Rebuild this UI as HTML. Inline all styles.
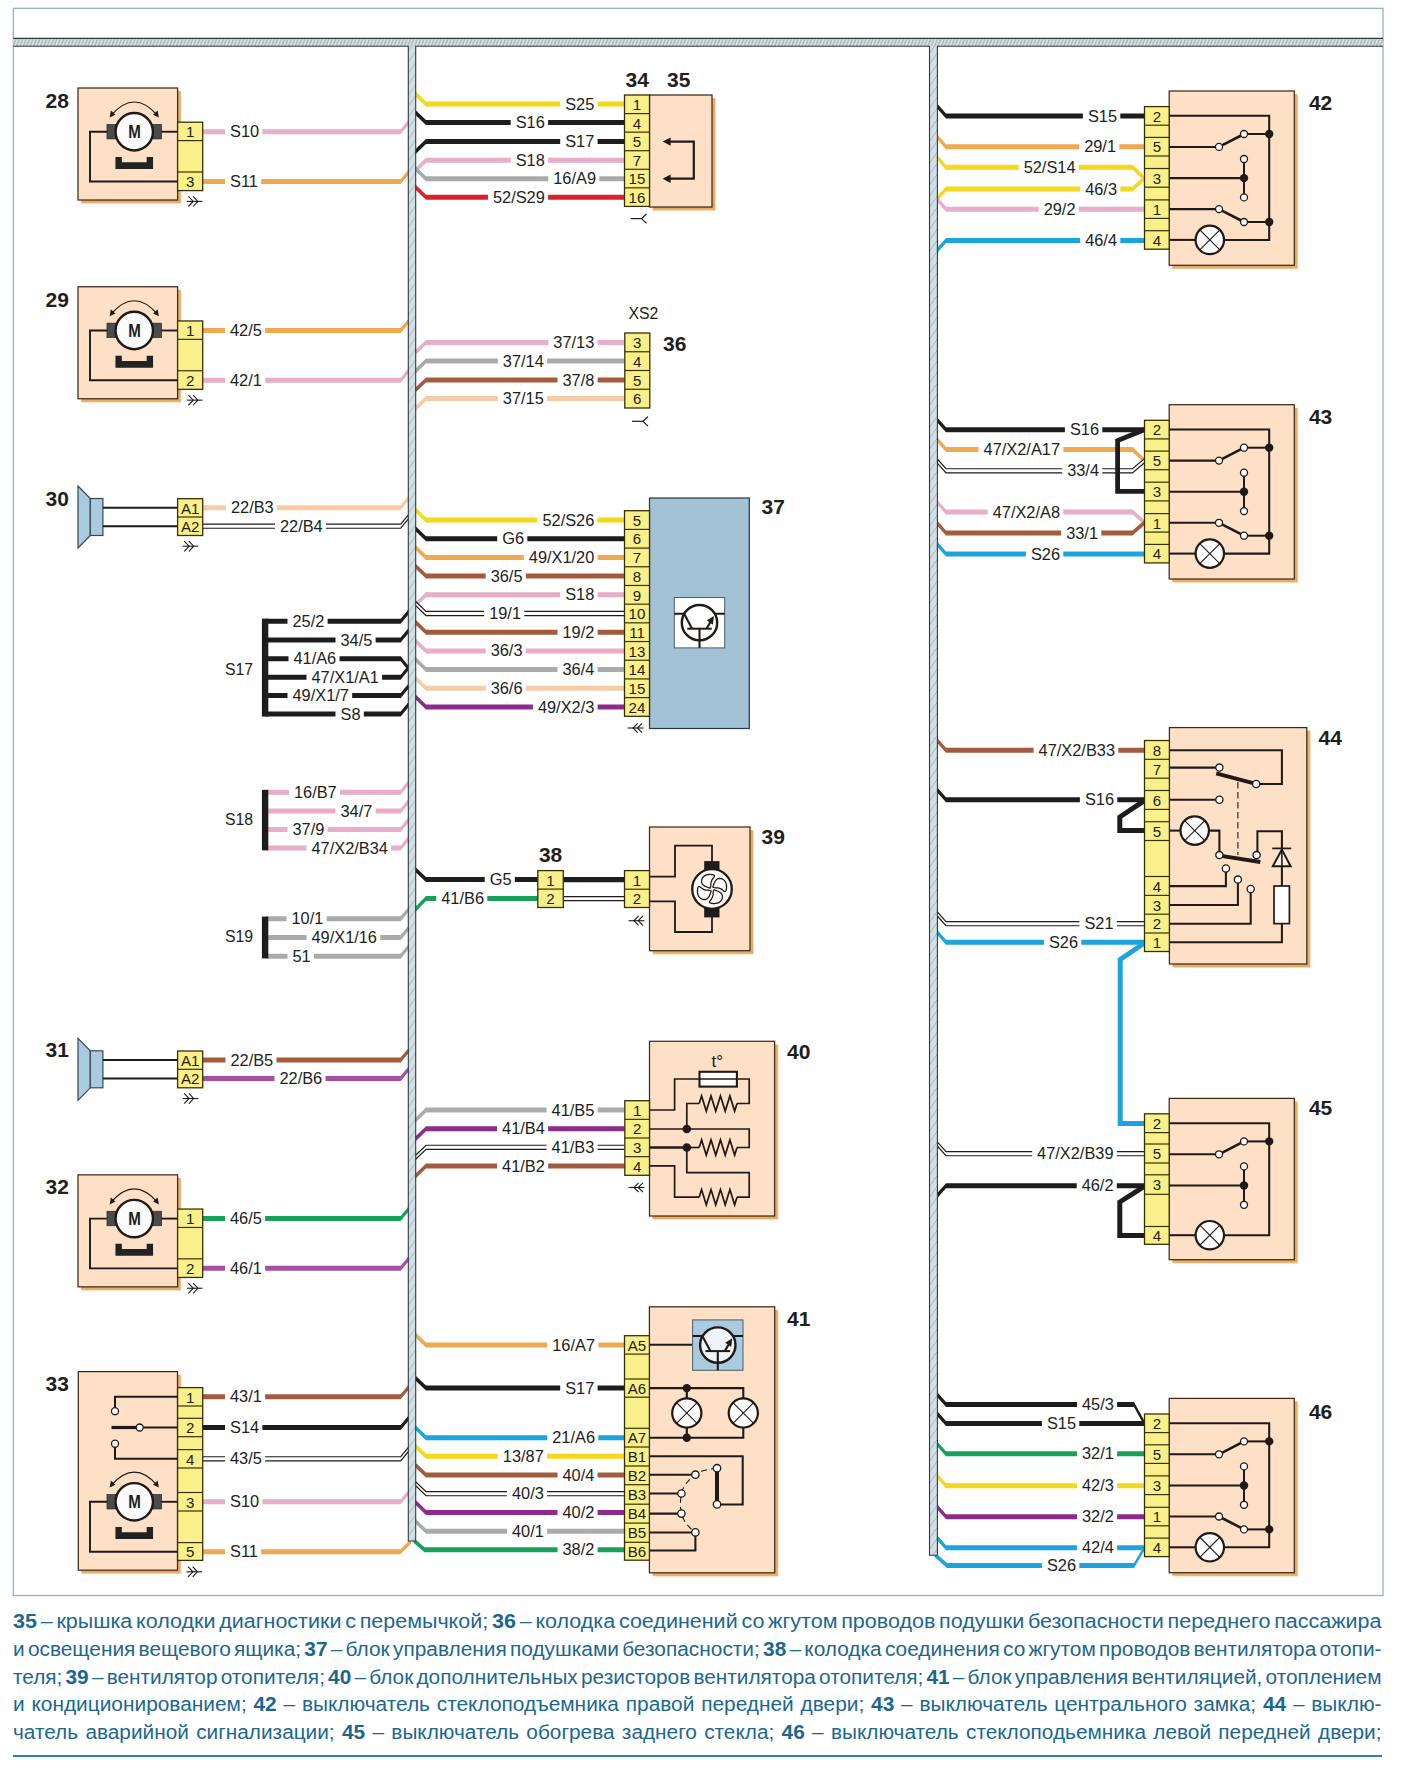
<!DOCTYPE html>
<html lang="ru"><head><meta charset="utf-8"><title>Схема</title>
<style>
html,body{margin:0;padding:0;background:#fff;}
body{width:1401px;height:1767px;position:relative;overflow:hidden;font-family:"Liberation Sans",sans-serif;}
svg{position:absolute;left:0;top:0;}
svg text{font-family:"Liberation Sans",sans-serif;fill:#221e1c;}
.wl{font-size:15.8px;}
.pn{font-size:15.1px;}
.bl{font-size:21px;font-weight:bold;}
.mm{font-size:18px;font-weight:bold;}
.cap{position:absolute;left:13px;width:1369px;height:28px;line-height:28px;font-size:20px;color:#1c678f;text-align:justify;text-align-last:justify;white-space:nowrap;word-spacing:-4px;transform-origin:0 0;}
.cap b{font-weight:bold;}
.rule{position:absolute;left:13px;top:1755px;width:1369px;height:2px;background:#2c7db6;}
</style></head><body>
<svg width="1401" height="1767" viewBox="0 0 1401 1767">
<rect x="13.3" y="8.3" width="1369.7" height="1587.2" fill="#fff" stroke="#86aec0" stroke-width="1.2"/>
<defs><pattern id="hh" width="3.4" height="7.9" patternUnits="userSpaceOnUse"><rect width="3.4" height="7.9" fill="#dfe5e8"/><path d="M-1.2 8.9 L2.6 -1 M2.2 8.9 L6 -1" stroke="#aab3b8" stroke-width="1.5"/></pattern><pattern id="hv" width="7.8" height="11" patternUnits="userSpaceOnUse"><rect width="7.8" height="11" fill="#d3dfe6"/><path d="M-1 12.4 L8.8 -1.4" stroke="#9eacb3" stroke-width="0.9"/></pattern></defs>
<path d="M202.7 129.25 L400.7 129.25 L408.6 119.65 L411.6 116 L411.6 121 L408.6 124.65 L400.7 134.25 L202.7 134.25 Z" fill="#e8adc8"/>
<rect x="225" y="127.25" width="37.4" height="9" fill="#fff"/>
<text x="230" y="137.35" class="wl" textLength="29.1" lengthAdjust="spacingAndGlyphs">S10</text>
<path d="M202.7 179 L400.7 179 L408.6 169.4 L411.6 165.75 L411.6 170.75 L408.6 174.4 L400.7 184 L202.7 184 Z" fill="#efa951"/>
<rect x="225" y="177" width="36.18" height="9" fill="#fff"/>
<text x="230" y="187.1" class="wl" textLength="27.88" lengthAdjust="spacingAndGlyphs">S11</text>
<path d="M202.7 328 L400.7 328 L408.6 318.4 L411.6 314.75 L411.6 319.75 L408.6 323.4 L400.7 333 L202.7 333 Z" fill="#efa951"/>
<rect x="225" y="326" width="40.12" height="9" fill="#fff"/>
<text x="230" y="336.1" class="wl" textLength="31.82" lengthAdjust="spacingAndGlyphs">42/5</text>
<path d="M202.7 377.75 L400.7 377.75 L408.6 368.15 L411.6 364.5 L411.6 369.5 L408.6 373.15 L400.7 382.75 L202.7 382.75 Z" fill="#e8adc8"/>
<rect x="225" y="375.75" width="40.12" height="9" fill="#fff"/>
<text x="230" y="385.85" class="wl" textLength="31.82" lengthAdjust="spacingAndGlyphs">42/1</text>
<path d="M202.7 505.2 L400.7 505.2 L408.6 495.6 L411.6 491.95 L411.6 496.95 L408.6 500.6 L400.7 510.2 L202.7 510.2 Z" fill="#f6cca6"/>
<rect x="226" y="503.2" width="51.03" height="9" fill="#fff"/>
<text x="231" y="513.3" class="wl" textLength="42.73" lengthAdjust="spacingAndGlyphs">22/B3</text>
<path d="M202.7 524.15 L400.7 524.15 L408.6 514.55 L411.6 510.9 L411.6 515 L408.6 518.65 L400.7 528.25 L202.7 528.25 Z" fill="#fff"/>
<path d="M202.7 524.15 L400.7 524.15 L408.6 514.55 L411.6 510.9" fill="none" stroke="#1f1a17" stroke-width="1.2"/>
<path d="M202.7 528.25 L400.7 528.25 L408.6 518.65 L411.6 515" fill="none" stroke="#1f1a17" stroke-width="1.2"/>
<rect x="275" y="521.7" width="51.03" height="9" fill="#fff"/>
<text x="280" y="531.8" class="wl" textLength="42.73" lengthAdjust="spacingAndGlyphs">22/B4</text>
<path d="M202.7 1057.6 L400.7 1057.6 L408.6 1048 L411.6 1044.35 L411.6 1049.35 L408.6 1053 L400.7 1062.6 L202.7 1062.6 Z" fill="#a35b3d"/>
<rect x="225.5" y="1055.6" width="51.03" height="9" fill="#fff"/>
<text x="230.5" y="1065.7" class="wl" textLength="42.73" lengthAdjust="spacingAndGlyphs">22/B5</text>
<path d="M202.7 1076 L400.7 1076 L408.6 1066.4 L411.6 1062.75 L411.6 1067.75 L408.6 1071.4 L400.7 1081 L202.7 1081 Z" fill="#a451a2"/>
<rect x="274.5" y="1074" width="51.03" height="9" fill="#fff"/>
<text x="279.5" y="1084.1" class="wl" textLength="42.73" lengthAdjust="spacingAndGlyphs">22/B6</text>
<path d="M202.7 1216.1 L400.7 1216.1 L408.6 1206.5 L411.6 1202.85 L411.6 1207.85 L408.6 1211.5 L400.7 1221.1 L202.7 1221.1 Z" fill="#18a05b"/>
<rect x="225" y="1214.1" width="40.12" height="9" fill="#fff"/>
<text x="230" y="1224.2" class="wl" textLength="31.82" lengthAdjust="spacingAndGlyphs">46/5</text>
<path d="M202.7 1265.8 L400.7 1265.8 L408.6 1256.2 L411.6 1252.55 L411.6 1257.55 L408.6 1261.2 L400.7 1270.8 L202.7 1270.8 Z" fill="#a451a2"/>
<rect x="225" y="1263.8" width="40.12" height="9" fill="#fff"/>
<text x="230" y="1273.9" class="wl" textLength="31.82" lengthAdjust="spacingAndGlyphs">46/1</text>
<path d="M202.7 1394.3 L400.7 1394.3 L408.6 1384.7 L411.6 1381.05 L411.6 1386.05 L408.6 1389.7 L400.7 1399.3 L202.7 1399.3 Z" fill="#a35b3d"/>
<rect x="225" y="1392.3" width="40.12" height="9" fill="#fff"/>
<text x="230" y="1402.4" class="wl" textLength="31.82" lengthAdjust="spacingAndGlyphs">43/1</text>
<path d="M202.7 1425 L400.7 1425 L408.6 1415.4 L411.6 1411.75 L411.6 1416.75 L408.6 1420.4 L400.7 1430 L202.7 1430 Z" fill="#1d1d1d"/>
<rect x="225" y="1423" width="37.4" height="9" fill="#fff"/>
<text x="230" y="1433.1" class="wl" textLength="29.1" lengthAdjust="spacingAndGlyphs">S14</text>
<path d="M202.7 1456.75 L400.7 1456.75 L408.6 1447.15 L411.6 1443.5 L411.6 1447.6 L408.6 1451.25 L400.7 1460.85 L202.7 1460.85 Z" fill="#fff"/>
<path d="M202.7 1456.75 L400.7 1456.75 L408.6 1447.15 L411.6 1443.5" fill="none" stroke="#1f1a17" stroke-width="1.2"/>
<path d="M202.7 1460.85 L400.7 1460.85 L408.6 1451.25 L411.6 1447.6" fill="none" stroke="#1f1a17" stroke-width="1.2"/>
<rect x="225" y="1454.3" width="40.12" height="9" fill="#fff"/>
<text x="230" y="1464.4" class="wl" textLength="31.82" lengthAdjust="spacingAndGlyphs">43/5</text>
<path d="M202.7 1499.3 L400.7 1499.3 L408.6 1489.7 L411.6 1486.05 L411.6 1491.05 L408.6 1494.7 L400.7 1504.3 L202.7 1504.3 Z" fill="#e8adc8"/>
<rect x="225" y="1497.3" width="37.4" height="9" fill="#fff"/>
<text x="230" y="1507.4" class="wl" textLength="29.1" lengthAdjust="spacingAndGlyphs">S10</text>
<path d="M202.7 1549.3 L400.5 1549.3 L411 1538.8 L411 1543.8 L400.5 1554.3 L202.7 1554.3 Z" fill="#efa951"/>
<rect x="225" y="1547.3" width="36.18" height="9" fill="#fff"/>
<text x="230" y="1557.4" class="wl" textLength="27.88" lengthAdjust="spacingAndGlyphs">S11</text>
<path d="M266 618.8 L400.7 618.8 L408.6 609.2 L411.6 605.55 L411.6 610.55 L408.6 614.2 L400.7 623.8 L266 623.8 Z" fill="#1d1d1d"/>
<rect x="287.5" y="616.8" width="40.12" height="9" fill="#fff"/>
<text x="292.5" y="626.9" class="wl" textLength="31.82" lengthAdjust="spacingAndGlyphs">25/2</text>
<path d="M266 637.5 L400.7 637.5 L408.6 627.9 L411.6 624.25 L411.6 629.25 L408.6 632.9 L400.7 642.5 L266 642.5 Z" fill="#1d1d1d"/>
<rect x="335.5" y="635.5" width="40.12" height="9" fill="#fff"/>
<text x="340.5" y="645.6" class="wl" textLength="31.82" lengthAdjust="spacingAndGlyphs">34/5</text>
<path d="M266 656.3 L400.7 656.3 L408.6 665.9 L411.6 669.55 L411.6 674.55 L408.6 670.9 L400.7 661.3 L266 661.3 Z" fill="#1d1d1d"/>
<rect x="288.5" y="654.3" width="51.03" height="9" fill="#fff"/>
<text x="293.5" y="664.4" class="wl" textLength="42.73" lengthAdjust="spacingAndGlyphs">41/A6</text>
<path d="M266 674.7 L400.7 674.7 L408.6 665.1 L411.6 661.45 L411.6 666.45 L408.6 670.1 L400.7 679.7 L266 679.7 Z" fill="#1d1d1d"/>
<rect x="306.5" y="672.7" width="75.58" height="9" fill="#fff"/>
<text x="311.5" y="682.8" class="wl" textLength="67.28" lengthAdjust="spacingAndGlyphs">47/X1/A1</text>
<path d="M266 693.1 L400.7 693.1 L408.6 683.5 L411.6 679.85 L411.6 684.85 L408.6 688.5 L400.7 698.1 L266 698.1 Z" fill="#1d1d1d"/>
<rect x="287.5" y="691.1" width="64.67" height="9" fill="#fff"/>
<text x="292.5" y="701.2" class="wl" textLength="56.37" lengthAdjust="spacingAndGlyphs">49/X1/7</text>
<path d="M266 711.5 L400.7 711.5 L408.6 701.9 L411.6 698.25 L411.6 703.25 L408.6 706.9 L400.7 716.5 L266 716.5 Z" fill="#1d1d1d"/>
<rect x="335.5" y="709.5" width="28.3" height="9" fill="#fff"/>
<text x="340.5" y="719.6" class="wl" textLength="20" lengthAdjust="spacingAndGlyphs">S8</text>
<rect x="261.9" y="618.6" width="6.4" height="98" fill="#1d1d1d"/>
<text x="225" y="675" class="wl">S17</text>
<path d="M266 789.7 L400.7 789.7 L408.6 780.1 L411.6 776.45 L411.6 781.45 L408.6 785.1 L400.7 794.7 L266 794.7 Z" fill="#e8adc8"/>
<rect x="289" y="787.7" width="51.03" height="9" fill="#fff"/>
<text x="294" y="797.8" class="wl" textLength="42.73" lengthAdjust="spacingAndGlyphs">16/B7</text>
<path d="M266 808.5 L400.7 808.5 L408.6 798.9 L411.6 795.25 L411.6 800.25 L408.6 803.9 L400.7 813.5 L266 813.5 Z" fill="#e8adc8"/>
<rect x="335.5" y="806.5" width="40.12" height="9" fill="#fff"/>
<text x="340.5" y="816.6" class="wl" textLength="31.82" lengthAdjust="spacingAndGlyphs">34/7</text>
<path d="M266 826.9 L400.7 826.9 L408.6 817.3 L411.6 813.65 L411.6 818.65 L408.6 822.3 L400.7 831.9 L266 831.9 Z" fill="#e8adc8"/>
<rect x="287.5" y="824.9" width="40.12" height="9" fill="#fff"/>
<text x="292.5" y="835" class="wl" textLength="31.82" lengthAdjust="spacingAndGlyphs">37/9</text>
<path d="M266 845.5 L400.7 845.5 L408.6 835.9 L411.6 832.25 L411.6 837.25 L408.6 840.9 L400.7 850.5 L266 850.5 Z" fill="#e8adc8"/>
<rect x="306.5" y="843.5" width="84.67" height="9" fill="#fff"/>
<text x="311.5" y="853.6" class="wl" textLength="76.37" lengthAdjust="spacingAndGlyphs">47/X2/B34</text>
<rect x="261.9" y="789.8" width="6.4" height="60.6" fill="#1d1d1d"/>
<text x="225" y="825" class="wl">S18</text>
<path d="M266 916.3 L400.7 916.3 L408.6 906.7 L411.6 903.05 L411.6 908.05 L408.6 911.7 L400.7 921.3 L266 921.3 Z" fill="#a9abab"/>
<rect x="286.5" y="914.3" width="40.12" height="9" fill="#fff"/>
<text x="291.5" y="924.4" class="wl" textLength="31.82" lengthAdjust="spacingAndGlyphs">10/1</text>
<path d="M266 935 L400.7 935 L408.6 925.4 L411.6 921.75 L411.6 926.75 L408.6 930.4 L400.7 940 L266 940 Z" fill="#a9abab"/>
<rect x="306.5" y="933" width="73.76" height="9" fill="#fff"/>
<text x="311.5" y="943.1" class="wl" textLength="65.46" lengthAdjust="spacingAndGlyphs">49/X1/16</text>
<path d="M266 953.7 L400.7 953.7 L408.6 944.1 L411.6 940.45 L411.6 945.45 L408.6 949.1 L400.7 958.7 L266 958.7 Z" fill="#a9abab"/>
<rect x="287.5" y="951.7" width="26.49" height="9" fill="#fff"/>
<text x="292.5" y="961.8" class="wl" textLength="18.19" lengthAdjust="spacingAndGlyphs">51</text>
<rect x="261.9" y="916.6" width="6.4" height="41.8" fill="#1d1d1d"/>
<text x="225" y="941.5" class="wl">S19</text>
<rect x="81.9" y="91.9" width="99.6" height="112" fill="#f6dcb9"/>
<rect x="81.1" y="91.1" width="99.6" height="112" fill="#e6ad68"/>
<rect x="78" y="88" width="99.6" height="112" fill="#fde0c6" stroke="#3f2a18" stroke-width="1.25"/>
<rect x="177.6" y="122.2" width="25.1" height="68.4" fill="#faf089" stroke="#363005" stroke-width="1.3"/>
<text x="190.15" y="137.15" class="pn" text-anchor="middle">1</text>
<path d="M177.6 140.6 H202.7" stroke="#363005" stroke-width="1.2"/>
<path d="M177.6 172 H202.7" stroke="#363005" stroke-width="1.2"/>
<text x="190.15" y="187.05" class="pn" text-anchor="middle">3</text>
<path d="M115.25 131.75 L90 131.75 L90 181.5 L177.6 181.5" fill="none" stroke="#1f1a17" stroke-width="1.9" />
<path d="M153.25 131.75 L177.6 131.75" fill="none" stroke="#1f1a17" stroke-width="1.9" />
<rect x="106.95" y="124.35" width="8.8" height="14.6" fill="#4b4b4b" stroke="#222" stroke-width="0.6"/>
<rect x="152.85" y="124.35" width="8.8" height="14.6" fill="#4b4b4b" stroke="#222" stroke-width="0.6"/>
<circle cx="134.25" cy="131.75" r="18.7" fill="#fcfcfc" stroke="#1f1a17" stroke-width="2.4"/>
<text transform="translate(134.45 138.15) scale(0.84 1)" text-anchor="middle" class="mm">M</text>
<path d="M115.45 156.95 H121.85 V162.15 H146.65 V156.95 H153.05 V168.95 H115.45 Z" fill="#222"/>
<path d="M111.25 115.25 Q134.25 88.75 157.25 115.25" fill="none" stroke="#1f1a17" stroke-width="1.2"/>
<path d="M109.65 117.55 l1.2 -7 l4.6 4.2 Z" fill="#1f1a17"/>
<path d="M158.85 117.55 l-1.2 -7 l-4.6 4.2 Z" fill="#1f1a17"/>
<path d="M186.9 201.4 L202.5 201.4" fill="none" stroke="#1f1a17" stroke-width="1.1" />
<path d="M188.4 196.3 L193.3 201.4 L188.4 206.5" fill="none" stroke="#1f1a17" stroke-width="1.1" />
<path d="M193.1 196.3 L197.8 201.4 L193.1 206.5" fill="none" stroke="#1f1a17" stroke-width="1.1" />
<text x="45.6" y="108.2" class="bl">28</text>
<rect x="81.9" y="290.65" width="99.6" height="112" fill="#f6dcb9"/>
<rect x="81.1" y="289.85" width="99.6" height="112" fill="#e6ad68"/>
<rect x="78" y="286.75" width="99.6" height="112" fill="#fde0c6" stroke="#3f2a18" stroke-width="1.25"/>
<rect x="177.6" y="320.95" width="25.1" height="68.4" fill="#faf089" stroke="#363005" stroke-width="1.3"/>
<text x="190.15" y="335.9" class="pn" text-anchor="middle">1</text>
<path d="M177.6 339.35 H202.7" stroke="#363005" stroke-width="1.2"/>
<path d="M177.6 370.75 H202.7" stroke="#363005" stroke-width="1.2"/>
<text x="190.15" y="385.8" class="pn" text-anchor="middle">2</text>
<path d="M115.25 330.5 L90 330.5 L90 380.25 L177.6 380.25" fill="none" stroke="#1f1a17" stroke-width="1.9" />
<path d="M153.25 330.5 L177.6 330.5" fill="none" stroke="#1f1a17" stroke-width="1.9" />
<rect x="106.95" y="323.1" width="8.8" height="14.6" fill="#4b4b4b" stroke="#222" stroke-width="0.6"/>
<rect x="152.85" y="323.1" width="8.8" height="14.6" fill="#4b4b4b" stroke="#222" stroke-width="0.6"/>
<circle cx="134.25" cy="330.5" r="18.7" fill="#fcfcfc" stroke="#1f1a17" stroke-width="2.4"/>
<text transform="translate(134.45 336.9) scale(0.84 1)" text-anchor="middle" class="mm">M</text>
<path d="M115.45 355.7 H121.85 V360.9 H146.65 V355.7 H153.05 V367.7 H115.45 Z" fill="#222"/>
<path d="M111.25 314 Q134.25 287.5 157.25 314" fill="none" stroke="#1f1a17" stroke-width="1.2"/>
<path d="M109.65 316.3 l1.2 -7 l4.6 4.2 Z" fill="#1f1a17"/>
<path d="M158.85 316.3 l-1.2 -7 l-4.6 4.2 Z" fill="#1f1a17"/>
<path d="M186.9 400.15 L202.5 400.15" fill="none" stroke="#1f1a17" stroke-width="1.1" />
<path d="M188.4 395.05 L193.3 400.15 L188.4 405.25" fill="none" stroke="#1f1a17" stroke-width="1.1" />
<path d="M193.1 395.05 L197.8 400.15 L193.1 405.25" fill="none" stroke="#1f1a17" stroke-width="1.1" />
<text x="45.6" y="306.9" class="bl">29</text>
<rect x="81.9" y="1178.75" width="99.6" height="112" fill="#f6dcb9"/>
<rect x="81.1" y="1177.95" width="99.6" height="112" fill="#e6ad68"/>
<rect x="78" y="1174.85" width="99.6" height="112" fill="#fde0c6" stroke="#3f2a18" stroke-width="1.25"/>
<rect x="177.6" y="1209.05" width="25.1" height="68.4" fill="#faf089" stroke="#363005" stroke-width="1.3"/>
<text x="190.15" y="1224" class="pn" text-anchor="middle">1</text>
<path d="M177.6 1227.45 H202.7" stroke="#363005" stroke-width="1.2"/>
<path d="M177.6 1258.85 H202.7" stroke="#363005" stroke-width="1.2"/>
<text x="190.15" y="1273.9" class="pn" text-anchor="middle">2</text>
<path d="M115.25 1218.6 L90 1218.6 L90 1268.35 L177.6 1268.35" fill="none" stroke="#1f1a17" stroke-width="1.9" />
<path d="M153.25 1218.6 L177.6 1218.6" fill="none" stroke="#1f1a17" stroke-width="1.9" />
<rect x="106.95" y="1211.2" width="8.8" height="14.6" fill="#4b4b4b" stroke="#222" stroke-width="0.6"/>
<rect x="152.85" y="1211.2" width="8.8" height="14.6" fill="#4b4b4b" stroke="#222" stroke-width="0.6"/>
<circle cx="134.25" cy="1218.6" r="18.7" fill="#fcfcfc" stroke="#1f1a17" stroke-width="2.4"/>
<text transform="translate(134.45 1225) scale(0.84 1)" text-anchor="middle" class="mm">M</text>
<path d="M115.45 1243.8 H121.85 V1249 H146.65 V1243.8 H153.05 V1255.8 H115.45 Z" fill="#222"/>
<path d="M111.25 1202.1 Q134.25 1175.6 157.25 1202.1" fill="none" stroke="#1f1a17" stroke-width="1.2"/>
<path d="M109.65 1204.4 l1.2 -7 l4.6 4.2 Z" fill="#1f1a17"/>
<path d="M158.85 1204.4 l-1.2 -7 l-4.6 4.2 Z" fill="#1f1a17"/>
<path d="M186.9 1288.25 L202.5 1288.25" fill="none" stroke="#1f1a17" stroke-width="1.1" />
<path d="M188.4 1283.15 L193.3 1288.25 L188.4 1293.35" fill="none" stroke="#1f1a17" stroke-width="1.1" />
<path d="M193.1 1283.15 L197.8 1288.25 L193.1 1293.35" fill="none" stroke="#1f1a17" stroke-width="1.1" />
<text x="45.6" y="1193.7" class="bl">32</text>
<path d="M78 486 L90.3 498.5 V535.5 L78 548 Z" fill="#a9cbe0" stroke="#3a4650" stroke-width="1.2"/>
<rect x="90.3" y="498.5" width="12.6" height="37" fill="#a9cbe0" stroke="#3a4650" stroke-width="1.2"/>
<path d="M102.9 507.7 L177.5 507.7" fill="none" stroke="#1f1a17" stroke-width="2" />
<path d="M102.9 526.2 L177.5 526.2" fill="none" stroke="#1f1a17" stroke-width="2" />
<rect x="177.6" y="498.7" width="25.1" height="36.8" fill="#faf089" stroke="#363005" stroke-width="1.3"/>
<text x="190.15" y="513.6" class="pn" text-anchor="middle">A1</text>
<path d="M177.6 517 H202.7" stroke="#363005" stroke-width="1.2"/>
<text x="190.15" y="532" class="pn" text-anchor="middle">A2</text>
<path d="M182.7 546.2 L198.3 546.2" fill="none" stroke="#1f1a17" stroke-width="1.1" />
<path d="M184.2 541.1 L189.1 546.2 L184.2 551.3" fill="none" stroke="#1f1a17" stroke-width="1.1" />
<path d="M188.9 541.1 L193.6 546.2 L188.9 551.3" fill="none" stroke="#1f1a17" stroke-width="1.1" />
<text x="45.6" y="505.7" class="bl">30</text>
<path d="M78 1038.3 L90.3 1050.8 V1087.8 L78 1100.3 Z" fill="#a9cbe0" stroke="#3a4650" stroke-width="1.2"/>
<rect x="90.3" y="1050.8" width="12.6" height="37" fill="#a9cbe0" stroke="#3a4650" stroke-width="1.2"/>
<path d="M102.9 1060 L177.5 1060" fill="none" stroke="#1f1a17" stroke-width="2" />
<path d="M102.9 1078.5 L177.5 1078.5" fill="none" stroke="#1f1a17" stroke-width="2" />
<rect x="177.6" y="1051" width="25.1" height="36.8" fill="#faf089" stroke="#363005" stroke-width="1.3"/>
<text x="190.15" y="1065.9" class="pn" text-anchor="middle">A1</text>
<path d="M177.6 1069.3 H202.7" stroke="#363005" stroke-width="1.2"/>
<text x="190.15" y="1084.3" class="pn" text-anchor="middle">A2</text>
<path d="M182.7 1098.5 L198.3 1098.5" fill="none" stroke="#1f1a17" stroke-width="1.1" />
<path d="M184.2 1093.4 L189.1 1098.5 L184.2 1103.6" fill="none" stroke="#1f1a17" stroke-width="1.1" />
<path d="M188.9 1093.4 L193.6 1098.5 L188.9 1103.6" fill="none" stroke="#1f1a17" stroke-width="1.1" />
<text x="45.6" y="1057.1" class="bl">31</text>
<rect x="82.2" y="1375.5" width="99.2" height="198.6" fill="#f6dcb9"/>
<rect x="81.4" y="1374.7" width="99.2" height="198.6" fill="#e6ad68"/>
<rect x="78.3" y="1371.6" width="99.2" height="198.6" fill="#fde0c6" stroke="#3f2a18" stroke-width="1.25"/>
<rect x="177.6" y="1387.6" width="25.1" height="172.8" fill="#faf089" stroke="#363005" stroke-width="1.3"/>
<text x="190.15" y="1402.55" class="pn" text-anchor="middle">1</text>
<path d="M177.6 1406 H202.7" stroke="#363005" stroke-width="1.2"/>
<path d="M177.6 1418.3 H202.7" stroke="#363005" stroke-width="1.2"/>
<text x="190.15" y="1433.25" class="pn" text-anchor="middle">2</text>
<path d="M177.6 1436.7 H202.7" stroke="#363005" stroke-width="1.2"/>
<path d="M177.6 1449.6 H202.7" stroke="#363005" stroke-width="1.2"/>
<text x="190.15" y="1464.55" class="pn" text-anchor="middle">4</text>
<path d="M177.6 1468 H202.7" stroke="#363005" stroke-width="1.2"/>
<path d="M177.6 1492.5 H202.7" stroke="#363005" stroke-width="1.2"/>
<text x="190.15" y="1507.5" class="pn" text-anchor="middle">3</text>
<path d="M177.6 1511 H202.7" stroke="#363005" stroke-width="1.2"/>
<path d="M177.6 1542.6 H202.7" stroke="#363005" stroke-width="1.2"/>
<text x="190.15" y="1557.25" class="pn" text-anchor="middle">5</text>
<path d="M177.6 1396.8 L115 1396.8 L115 1411.2" fill="none" stroke="#1f1a17" stroke-width="2.05" />
<path d="M177.6 1458.8 L115 1458.8 L115 1443.7" fill="none" stroke="#1f1a17" stroke-width="2.05" />
<path d="M177.6 1427.5 L139.7 1427.5" fill="none" stroke="#1f1a17" stroke-width="2.05" />
<path d="M139.7 1427.5 L111.5 1427.5" fill="none" stroke="#1f1a17" stroke-width="3.2" />
<circle cx="115" cy="1411.2" r="3.5" fill="#fff" stroke="#1f1a17" stroke-width="1.3"/>
<circle cx="115" cy="1443.7" r="3.5" fill="#fff" stroke="#1f1a17" stroke-width="1.3"/>
<circle cx="139.7" cy="1427.5" r="3.5" fill="#fff" stroke="#1f1a17" stroke-width="1.3"/>
<path d="M115.25 1501.8 L90 1501.8 L90 1551.8 L177.6 1551.8" fill="none" stroke="#1f1a17" stroke-width="1.9" />
<path d="M153.25 1501.8 L177.6 1501.8" fill="none" stroke="#1f1a17" stroke-width="1.9" />
<rect x="106.95" y="1494.4" width="8.8" height="14.6" fill="#4b4b4b" stroke="#222" stroke-width="0.6"/>
<rect x="152.85" y="1494.4" width="8.8" height="14.6" fill="#4b4b4b" stroke="#222" stroke-width="0.6"/>
<circle cx="134.25" cy="1501.8" r="18.7" fill="#fcfcfc" stroke="#1f1a17" stroke-width="2.4"/>
<text transform="translate(134.45 1508.2) scale(0.84 1)" text-anchor="middle" class="mm">M</text>
<path d="M115.45 1527 H121.85 V1532.2 H146.65 V1527 H153.05 V1539 H115.45 Z" fill="#222"/>
<path d="M111.25 1485.3 Q134.25 1458.8 157.25 1485.3" fill="none" stroke="#1f1a17" stroke-width="1.2"/>
<path d="M109.65 1487.6 l1.2 -7 l4.6 4.2 Z" fill="#1f1a17"/>
<path d="M158.85 1487.6 l-1.2 -7 l-4.6 4.2 Z" fill="#1f1a17"/>
<path d="M186.5 1571.8 L202.1 1571.8" fill="none" stroke="#1f1a17" stroke-width="1.1" />
<path d="M188 1566.7 L192.9 1571.8 L188 1576.9" fill="none" stroke="#1f1a17" stroke-width="1.1" />
<path d="M192.7 1566.7 L197.4 1571.8 L192.7 1576.9" fill="none" stroke="#1f1a17" stroke-width="1.1" />
<text x="45.6" y="1391.3" class="bl">33</text>
<path d="M412.4 88.14 L415.4 91.2 L426 101.4 L624.5 101.4 L624.5 106.4 L426 106.4 L415.4 96.2 L412.4 93.14 Z" fill="#f3d81d"/>
<rect x="560.2" y="99.4" width="37.4" height="9" fill="#fff"/>
<text x="565.2" y="109.5" class="wl" textLength="29.1" lengthAdjust="spacingAndGlyphs">S25</text>
<path d="M412.4 106.84 L415.4 109.9 L426 120.1 L624.5 120.1 L624.5 125.1 L426 125.1 L415.4 114.9 L412.4 111.84 Z" fill="#1d1d1d"/>
<rect x="510.7" y="118.1" width="37.4" height="9" fill="#fff"/>
<text x="515.7" y="128.2" class="wl" textLength="29.1" lengthAdjust="spacingAndGlyphs">S16</text>
<path d="M412.4 152.36 L415.4 149.3 L426 139.1 L624.5 139.1 L624.5 144.1 L426 144.1 L415.4 154.3 L412.4 157.36 Z" fill="#1d1d1d"/>
<rect x="560.2" y="137.1" width="37.4" height="9" fill="#fff"/>
<text x="565.2" y="147.2" class="wl" textLength="29.1" lengthAdjust="spacingAndGlyphs">S17</text>
<path d="M412.4 171.06 L415.4 168 L426 157.8 L624.5 157.8 L624.5 162.8 L426 162.8 L415.4 173 L412.4 176.06 Z" fill="#e8adc8"/>
<rect x="510.7" y="155.8" width="37.4" height="9" fill="#fff"/>
<text x="515.7" y="165.9" class="wl" textLength="29.1" lengthAdjust="spacingAndGlyphs">S18</text>
<path d="M412.4 162.94 L415.4 166 L426 176.2 L624.5 176.2 L624.5 181.2 L426 181.2 L415.4 171 L412.4 167.94 Z" fill="#a9abab"/>
<rect x="548.27" y="174.2" width="51.03" height="9" fill="#fff"/>
<text x="553.27" y="184.3" class="wl" textLength="42.73" lengthAdjust="spacingAndGlyphs">16/A9</text>
<path d="M412.4 181.54 L415.4 184.6 L426 194.8 L624.5 194.8 L624.5 199.8 L426 199.8 L415.4 189.6 L412.4 186.54 Z" fill="#db202b"/>
<rect x="487.97" y="192.8" width="60.13" height="9" fill="#fff"/>
<text x="492.97" y="202.9" class="wl" textLength="51.83" lengthAdjust="spacingAndGlyphs">52/S29</text>
<path d="M412.4 353.16 L415.4 350.1 L426 339.9 L624.5 339.9 L624.5 344.9 L426 344.9 L415.4 355.1 L412.4 358.16 Z" fill="#e8adc8"/>
<rect x="548.38" y="337.9" width="49.22" height="9" fill="#fff"/>
<text x="553.38" y="348" class="wl" textLength="40.92" lengthAdjust="spacingAndGlyphs">37/13</text>
<path d="M412.4 371.86 L415.4 368.8 L426 358.6 L624.5 358.6 L624.5 363.6 L426 363.6 L415.4 373.8 L412.4 376.86 Z" fill="#a9abab"/>
<rect x="497.88" y="356.6" width="49.22" height="9" fill="#fff"/>
<text x="502.88" y="366.7" class="wl" textLength="40.92" lengthAdjust="spacingAndGlyphs">37/14</text>
<path d="M412.4 390.66 L415.4 387.6 L426 377.4 L624.5 377.4 L624.5 382.4 L426 382.4 L415.4 392.6 L412.4 395.66 Z" fill="#a35b3d"/>
<rect x="557.48" y="375.4" width="40.12" height="9" fill="#fff"/>
<text x="562.48" y="385.5" class="wl" textLength="31.82" lengthAdjust="spacingAndGlyphs">37/8</text>
<path d="M412.4 409.36 L415.4 406.3 L426 396.1 L624.5 396.1 L624.5 401.1 L426 401.1 L415.4 411.3 L412.4 414.36 Z" fill="#f6cca6"/>
<rect x="497.88" y="394.1" width="49.22" height="9" fill="#fff"/>
<text x="502.88" y="404.2" class="wl" textLength="40.92" lengthAdjust="spacingAndGlyphs">37/15</text>
<path d="M412.4 504.29 L415.4 507.35 L426 517.55 L624.5 517.55 L624.5 522.55 L426 522.55 L415.4 512.35 L412.4 509.29 Z" fill="#f3d81d"/>
<rect x="537.47" y="515.55" width="60.13" height="9" fill="#fff"/>
<text x="542.47" y="525.65" class="wl" textLength="51.83" lengthAdjust="spacingAndGlyphs">52/S26</text>
<path d="M412.4 522.98 L415.4 526.04 L426 536.24 L624.5 536.24 L624.5 541.24 L426 541.24 L415.4 531.04 L412.4 527.98 Z" fill="#1d1d1d"/>
<rect x="497.19" y="534.24" width="30.11" height="9" fill="#fff"/>
<text x="502.19" y="544.34" class="wl" textLength="21.81" lengthAdjust="spacingAndGlyphs">G6</text>
<path d="M412.4 541.67 L415.4 544.73 L426 554.93 L624.5 554.93 L624.5 559.93 L426 559.93 L415.4 549.73 L412.4 546.67 Z" fill="#efa951"/>
<rect x="523.84" y="552.93" width="73.76" height="9" fill="#fff"/>
<text x="528.84" y="563.03" class="wl" textLength="65.46" lengthAdjust="spacingAndGlyphs">49/X1/20</text>
<path d="M412.4 560.36 L415.4 563.42 L426 573.62 L624.5 573.62 L624.5 578.62 L426 578.62 L415.4 568.42 L412.4 565.36 Z" fill="#a35b3d"/>
<rect x="485.68" y="571.62" width="40.12" height="9" fill="#fff"/>
<text x="490.68" y="581.72" class="wl" textLength="31.82" lengthAdjust="spacingAndGlyphs">36/5</text>
<path d="M412.4 605.57 L415.4 602.51 L426 592.31 L624.5 592.31 L624.5 597.31 L426 597.31 L415.4 607.51 L412.4 610.57 Z" fill="#e8adc8"/>
<rect x="560.2" y="590.31" width="37.4" height="9" fill="#fff"/>
<text x="565.2" y="600.41" class="wl" textLength="29.1" lengthAdjust="spacingAndGlyphs">S18</text>
<path d="M412.4 598.19 L415.4 601.25 L426 611.45 L624.5 611.45 L624.5 615.55 L426 615.55 L415.4 605.35 L412.4 602.29 Z" fill="#fff"/>
<path d="M412.4 598.19 L415.4 601.25 L426 611.45 L624.5 611.45" fill="none" stroke="#1f1a17" stroke-width="1.2"/>
<path d="M412.4 602.29 L415.4 605.35 L426 615.55 L624.5 615.55" fill="none" stroke="#1f1a17" stroke-width="1.2"/>
<rect x="484.18" y="609" width="40.12" height="9" fill="#fff"/>
<text x="489.18" y="619.1" class="wl" textLength="31.82" lengthAdjust="spacingAndGlyphs">19/1</text>
<path d="M412.4 616.43 L415.4 619.49 L426 629.69 L624.5 629.69 L624.5 634.69 L426 634.69 L415.4 624.49 L412.4 621.43 Z" fill="#a35b3d"/>
<rect x="557.48" y="627.69" width="40.12" height="9" fill="#fff"/>
<text x="562.48" y="637.79" class="wl" textLength="31.82" lengthAdjust="spacingAndGlyphs">19/2</text>
<path d="M412.4 635.12 L415.4 638.18 L426 648.38 L624.5 648.38 L624.5 653.38 L426 653.38 L415.4 643.18 L412.4 640.12 Z" fill="#e8adc8"/>
<rect x="485.68" y="646.38" width="40.12" height="9" fill="#fff"/>
<text x="490.68" y="656.48" class="wl" textLength="31.82" lengthAdjust="spacingAndGlyphs">36/3</text>
<path d="M412.4 653.81 L415.4 656.87 L426 667.07 L624.5 667.07 L624.5 672.07 L426 672.07 L415.4 661.87 L412.4 658.81 Z" fill="#a9abab"/>
<rect x="557.48" y="665.07" width="40.12" height="9" fill="#fff"/>
<text x="562.48" y="675.17" class="wl" textLength="31.82" lengthAdjust="spacingAndGlyphs">36/4</text>
<path d="M412.4 672.5 L415.4 675.56 L426 685.76 L624.5 685.76 L624.5 690.76 L426 690.76 L415.4 680.56 L412.4 677.5 Z" fill="#f6cca6"/>
<rect x="485.68" y="683.76" width="40.12" height="9" fill="#fff"/>
<text x="490.68" y="693.86" class="wl" textLength="31.82" lengthAdjust="spacingAndGlyphs">36/6</text>
<path d="M412.4 691.19 L415.4 694.25 L426 704.45 L624.5 704.45 L624.5 709.45 L426 709.45 L415.4 699.25 L412.4 696.19 Z" fill="#8b2b8b"/>
<rect x="532.93" y="702.45" width="64.67" height="9" fill="#fff"/>
<text x="537.93" y="712.55" class="wl" textLength="56.37" lengthAdjust="spacingAndGlyphs">49/X2/3</text>
<path d="M624.5 876.9 L563 876.9 L563 882.3 L624.5 882.3 Z" fill="#1d1d1d"/>
<path d="M624.5 896.55 L563 896.55 L563 900.65 L624.5 900.65 Z" fill="#fff"/>
<path d="M624.5 896.55 L563 896.55" fill="none" stroke="#1f1a17" stroke-width="1.2"/>
<path d="M624.5 900.65 L563 900.65" fill="none" stroke="#1f1a17" stroke-width="1.2"/>
<path d="M412.4 863.84 L415.4 866.9 L426 877.1 L538 877.1 L538 882.1 L426 882.1 L415.4 871.9 L412.4 868.84 Z" fill="#1d1d1d"/>
<rect x="484.69" y="875.1" width="30.11" height="9" fill="#fff"/>
<text x="489.69" y="885.2" class="wl" textLength="21.81" lengthAdjust="spacingAndGlyphs">G5</text>
<path d="M412.4 910.33 L415.4 907 L426 895.9 L538 895.9 L538 900.9 L426 900.9 L415.4 912 L412.4 915.33 Z" fill="#18a05b"/>
<rect x="436.27" y="893.9" width="51.03" height="9" fill="#fff"/>
<text x="441.27" y="904" class="wl" textLength="42.73" lengthAdjust="spacingAndGlyphs">41/B6</text>
<path d="M412.4 1120.76 L415.4 1117.7 L426 1107.5 L624.5 1107.5 L624.5 1112.5 L426 1112.5 L415.4 1122.7 L412.4 1125.76 Z" fill="#a9abab"/>
<rect x="546.57" y="1105.5" width="51.03" height="9" fill="#fff"/>
<text x="551.57" y="1115.6" class="wl" textLength="42.73" lengthAdjust="spacingAndGlyphs">41/B5</text>
<path d="M412.4 1139.46 L415.4 1136.4 L426 1126.2 L624.5 1126.2 L624.5 1131.2 L426 1131.2 L415.4 1141.4 L412.4 1144.46 Z" fill="#8b2b8b"/>
<rect x="497.07" y="1124.2" width="51.03" height="9" fill="#fff"/>
<text x="502.07" y="1134.3" class="wl" textLength="42.73" lengthAdjust="spacingAndGlyphs">41/B4</text>
<path d="M412.4 1158.51 L415.4 1155.45 L426 1145.25 L624.5 1145.25 L624.5 1149.35 L426 1149.35 L415.4 1159.55 L412.4 1162.61 Z" fill="#fff"/>
<path d="M412.4 1158.51 L415.4 1155.45 L426 1145.25 L624.5 1145.25" fill="none" stroke="#1f1a17" stroke-width="1.2"/>
<path d="M412.4 1162.61 L415.4 1159.55 L426 1149.35 L624.5 1149.35" fill="none" stroke="#1f1a17" stroke-width="1.2"/>
<rect x="546.57" y="1142.8" width="51.03" height="9" fill="#fff"/>
<text x="551.57" y="1152.9" class="wl" textLength="42.73" lengthAdjust="spacingAndGlyphs">41/B3</text>
<path d="M412.4 1176.76 L415.4 1173.7 L426 1163.5 L624.5 1163.5 L624.5 1168.5 L426 1168.5 L415.4 1178.7 L412.4 1181.76 Z" fill="#a35b3d"/>
<rect x="497.07" y="1161.5" width="51.03" height="9" fill="#fff"/>
<text x="502.07" y="1171.6" class="wl" textLength="42.73" lengthAdjust="spacingAndGlyphs">41/B2</text>
<path d="M412.4 1329.24 L415.4 1332.3 L426 1342.5 L624.5 1342.5 L624.5 1347.5 L426 1347.5 L415.4 1337.3 L412.4 1334.24 Z" fill="#efa951"/>
<rect x="547.27" y="1340.5" width="51.03" height="9" fill="#fff"/>
<text x="552.27" y="1350.6" class="wl" textLength="42.73" lengthAdjust="spacingAndGlyphs">16/A7</text>
<path d="M412.4 1372.34 L415.4 1375.4 L426 1385.6 L624.5 1385.6 L624.5 1390.6 L426 1390.6 L415.4 1380.4 L412.4 1377.34 Z" fill="#1d1d1d"/>
<rect x="560.2" y="1383.6" width="37.4" height="9" fill="#fff"/>
<text x="565.2" y="1393.7" class="wl" textLength="29.1" lengthAdjust="spacingAndGlyphs">S17</text>
<path d="M412.4 1422.04 L415.4 1425.1 L426 1435.3 L624.5 1435.3 L624.5 1440.3 L426 1440.3 L415.4 1430.1 L412.4 1427.04 Z" fill="#1ca4dd"/>
<rect x="547.27" y="1433.3" width="51.03" height="9" fill="#fff"/>
<text x="552.27" y="1443.4" class="wl" textLength="42.73" lengthAdjust="spacingAndGlyphs">21/A6</text>
<path d="M412.4 1440.44 L415.4 1443.5 L426 1453.7 L624.5 1453.7 L624.5 1458.7 L426 1458.7 L415.4 1448.5 L412.4 1445.44 Z" fill="#f3d81d"/>
<rect x="497.88" y="1451.7" width="49.22" height="9" fill="#fff"/>
<text x="502.88" y="1461.8" class="wl" textLength="40.92" lengthAdjust="spacingAndGlyphs">13/87</text>
<path d="M412.4 1459.34 L415.4 1462.4 L426 1472.6 L624.5 1472.6 L624.5 1477.6 L426 1477.6 L415.4 1467.4 L412.4 1464.34 Z" fill="#a35b3d"/>
<rect x="557.48" y="1470.6" width="40.12" height="9" fill="#fff"/>
<text x="562.48" y="1480.7" class="wl" textLength="31.82" lengthAdjust="spacingAndGlyphs">40/4</text>
<path d="M412.4 1478.39 L415.4 1481.45 L426 1491.65 L624.5 1491.65 L624.5 1495.75 L426 1495.75 L415.4 1485.55 L412.4 1482.49 Z" fill="#fff"/>
<path d="M412.4 1478.39 L415.4 1481.45 L426 1491.65 L624.5 1491.65" fill="none" stroke="#1f1a17" stroke-width="1.2"/>
<path d="M412.4 1482.49 L415.4 1485.55 L426 1495.75 L624.5 1495.75" fill="none" stroke="#1f1a17" stroke-width="1.2"/>
<rect x="506.98" y="1489.2" width="40.12" height="9" fill="#fff"/>
<text x="511.98" y="1499.3" class="wl" textLength="31.82" lengthAdjust="spacingAndGlyphs">40/3</text>
<path d="M412.4 1496.64 L415.4 1499.7 L426 1509.9 L624.5 1509.9 L624.5 1514.9 L426 1514.9 L415.4 1504.7 L412.4 1501.64 Z" fill="#8b2b8b"/>
<rect x="557.48" y="1507.9" width="40.12" height="9" fill="#fff"/>
<text x="562.48" y="1518" class="wl" textLength="31.82" lengthAdjust="spacingAndGlyphs">40/2</text>
<path d="M412.4 1515.54 L415.4 1518.6 L426 1528.8 L624.5 1528.8 L624.5 1533.8 L426 1533.8 L415.4 1523.6 L412.4 1520.54 Z" fill="#a9abab"/>
<rect x="506.98" y="1526.8" width="40.12" height="9" fill="#fff"/>
<text x="511.98" y="1536.9" class="wl" textLength="31.82" lengthAdjust="spacingAndGlyphs">40/1</text>
<path d="M413.5 1537.8 L424.5 1547.2 L624.5 1547.2 L624.5 1552.2 L424.5 1552.2 L413.5 1542.8 Z" fill="#18a05b"/>
<rect x="557.48" y="1545.2" width="40.12" height="9" fill="#fff"/>
<text x="562.48" y="1555.3" class="wl" textLength="31.82" lengthAdjust="spacingAndGlyphs">38/2</text>
<rect x="653.4" y="98.9" width="62.5" height="112" fill="#f6dcb9"/>
<rect x="652.6" y="98.1" width="62.5" height="112" fill="#e6ad68"/>
<rect x="649.5" y="95" width="62.5" height="112" fill="#fde0c6" stroke="#3f2a18" stroke-width="1.25"/>
<rect x="624.5" y="95" width="25" height="111.42" fill="#faf089" stroke="#363005" stroke-width="1.3"/>
<text x="637" y="110.03" class="pn" text-anchor="middle">1</text>
<path d="M624.5 113.57 H649.5" stroke="#363005" stroke-width="1.2"/>
<text x="637" y="128.6" class="pn" text-anchor="middle">4</text>
<path d="M624.5 132.14 H649.5" stroke="#363005" stroke-width="1.2"/>
<text x="637" y="147.18" class="pn" text-anchor="middle">5</text>
<path d="M624.5 150.71 H649.5" stroke="#363005" stroke-width="1.2"/>
<text x="637" y="165.75" class="pn" text-anchor="middle">7</text>
<path d="M624.5 169.28 H649.5" stroke="#363005" stroke-width="1.2"/>
<text x="637" y="184.31" class="pn" text-anchor="middle">15</text>
<path d="M624.5 187.85 H649.5" stroke="#363005" stroke-width="1.2"/>
<text x="637" y="202.88" class="pn" text-anchor="middle">16</text>
<path d="M669 141.6 L693.8 141.6 L693.8 178.7 L669 178.7" fill="none" stroke="#1f1a17" stroke-width="2.2" />
<path d="M662.6 141.6 l8 -4.2 v8.4 Z" fill="#1f1a17"/>
<path d="M662.6 178.7 l8 -4.2 v8.4 Z" fill="#1f1a17"/>
<text x="625.6" y="87" class="bl">34</text>
<text x="667.1" y="87" class="bl">35</text>
<path d="M630.6 218.6 L641.6 218.6" fill="none" stroke="#1f1a17" stroke-width="1.2" />
<path d="M646.5 214 L641.6 218.6 L646.5 223.4" fill="none" stroke="#1f1a17" stroke-width="1.2" />
<rect x="624.8" y="333" width="25" height="75" fill="#faf089" stroke="#363005" stroke-width="1.3"/>
<text x="637.3" y="348.12" class="pn" text-anchor="middle">3</text>
<path d="M624.8 351.75 H649.8" stroke="#363005" stroke-width="1.2"/>
<text x="637.3" y="366.88" class="pn" text-anchor="middle">4</text>
<path d="M624.8 370.5 H649.8" stroke="#363005" stroke-width="1.2"/>
<text x="637.3" y="385.62" class="pn" text-anchor="middle">5</text>
<path d="M624.8 389.25 H649.8" stroke="#363005" stroke-width="1.2"/>
<text x="637.3" y="404.38" class="pn" text-anchor="middle">6</text>
<text x="628.5" y="318.8" class="wl">XS2</text>
<text x="663.1" y="350.9" class="bl">36</text>
<path d="M632 421.3 L643 421.3" fill="none" stroke="#1f1a17" stroke-width="1.2" />
<path d="M647.9 416.7 L643 421.3 L647.9 426.1" fill="none" stroke="#1f1a17" stroke-width="1.2" />
<rect x="649.5" y="498" width="99.8" height="230.5" fill="#a4c2d6" stroke="#2b3a45" stroke-width="1.25"/>
<rect x="624.5" y="510.7" width="25" height="205.6" fill="#faf089" stroke="#363005" stroke-width="1.3"/>
<text x="637" y="525.8" class="pn" text-anchor="middle">5</text>
<path d="M624.5 529.39 H649.5" stroke="#363005" stroke-width="1.2"/>
<text x="637" y="544.49" class="pn" text-anchor="middle">6</text>
<path d="M624.5 548.08 H649.5" stroke="#363005" stroke-width="1.2"/>
<text x="637" y="563.18" class="pn" text-anchor="middle">7</text>
<path d="M624.5 566.77 H649.5" stroke="#363005" stroke-width="1.2"/>
<text x="637" y="581.87" class="pn" text-anchor="middle">8</text>
<path d="M624.5 585.46 H649.5" stroke="#363005" stroke-width="1.2"/>
<text x="637" y="600.56" class="pn" text-anchor="middle">9</text>
<path d="M624.5 604.15 H649.5" stroke="#363005" stroke-width="1.2"/>
<text x="637" y="619.25" class="pn" text-anchor="middle">10</text>
<path d="M624.5 622.85 H649.5" stroke="#363005" stroke-width="1.2"/>
<text x="637" y="637.94" class="pn" text-anchor="middle">11</text>
<path d="M624.5 641.54 H649.5" stroke="#363005" stroke-width="1.2"/>
<text x="637" y="656.63" class="pn" text-anchor="middle">13</text>
<path d="M624.5 660.23 H649.5" stroke="#363005" stroke-width="1.2"/>
<text x="637" y="675.32" class="pn" text-anchor="middle">14</text>
<path d="M624.5 678.92 H649.5" stroke="#363005" stroke-width="1.2"/>
<text x="637" y="694.01" class="pn" text-anchor="middle">15</text>
<path d="M624.5 697.61 H649.5" stroke="#363005" stroke-width="1.2"/>
<text x="637" y="712.7" class="pn" text-anchor="middle">24</text>
<text x="761.6" y="514.2" class="bl">37</text>
<path d="M627.6 728 L643.5 728" fill="none" stroke="#1f1a17" stroke-width="1.1" />
<path d="M637.7 723.3 L633 728 L637.7 732.7" fill="none" stroke="#1f1a17" stroke-width="1.1" />
<path d="M642 723.3 L637.3 728 L642 732.7" fill="none" stroke="#1f1a17" stroke-width="1.1" />
<rect x="674.3" y="597.5" width="50.4" height="50.4" fill="#fdfdfd" stroke="#4d5c66" stroke-width="1"/>
<path d="M674.3 613.7 L724.7 613.7" fill="none" stroke="#1f1a17" stroke-width="2" />
<circle cx="699.5" cy="622.7" r="17.7" fill="#fff" stroke="#1f1a17" stroke-width="2.4"/>
<path d="M687.2 628.7 L711.8 628.7" fill="none" stroke="#1f1a17" stroke-width="2" />
<path d="M699.5 628.7 L699.5 647.9" fill="none" stroke="#1f1a17" stroke-width="2.1" />
<path d="M683.9 613.3 L692.1 628.7" fill="none" stroke="#1f1a17" stroke-width="2.1" />
<path d="M706.5 628.7 L711.1 620.9" fill="none" stroke="#1f1a17" stroke-width="2.1" />
<path d="M713.9 615.9 L706.9 620.3 L712.9 624.7 Z" fill="#1f1a17"/>
<rect x="537.8" y="870.6" width="25.5" height="36.9" fill="#faf089" stroke="#363005" stroke-width="1.3"/>
<text x="550.55" y="885.6" class="pn" text-anchor="middle">1</text>
<path d="M537.8 889.1 H563.3" stroke="#363005" stroke-width="1.2"/>
<text x="550.55" y="904.05" class="pn" text-anchor="middle">2</text>
<text x="538.9" y="861.7" class="bl">38</text>
<rect x="653.4" y="830.9" width="100.5" height="123.7" fill="#f6dcb9"/>
<rect x="652.6" y="830.1" width="100.5" height="123.7" fill="#e6ad68"/>
<rect x="649.5" y="827" width="100.5" height="123.7" fill="#fde0c6" stroke="#3f2a18" stroke-width="1.25"/>
<rect x="624.5" y="870.6" width="25" height="36.9" fill="#faf089" stroke="#363005" stroke-width="1.3"/>
<text x="637" y="885.65" class="pn" text-anchor="middle">1</text>
<path d="M624.5 889.2 H649.5" stroke="#363005" stroke-width="1.2"/>
<text x="637" y="904.1" class="pn" text-anchor="middle">2</text>
<text x="761.6" y="844.3" class="bl">39</text>
<path d="M628.5 920.7 L644.4 920.7" fill="none" stroke="#1f1a17" stroke-width="1.1" />
<path d="M638.6 916 L633.9 920.7 L638.6 925.4" fill="none" stroke="#1f1a17" stroke-width="1.1" />
<path d="M642.9 916 L638.2 920.7 L642.9 925.4" fill="none" stroke="#1f1a17" stroke-width="1.1" />
<path d="M649.5 876.7 L675 876.7 L675 845.7 L712 845.7 L712 862" fill="none" stroke="#1f1a17" stroke-width="1.8" />
<path d="M649.5 901.4 L675 901.4 L675 932 L712 932 L712 916" fill="none" stroke="#1f1a17" stroke-width="1.8" />
<rect x="704.2" y="861.1" width="15.3" height="10" fill="#1d1d1d"/>
<rect x="704.2" y="907.2" width="15.3" height="10.2" fill="#1d1d1d"/>
<circle cx="712" cy="889" r="19.8" fill="#fbfbfb" stroke="#1f1a17" stroke-width="2.3"/>
<path transform="translate(712 889) rotate(0)" d="M-1.56 -1.52 Q-1.26 -2.43 -1.22 -3.62 Q-1.18 -4.8 -1.02 -5.97 Q-0.86 -7.15 -0.37 -8.32 Q0.12 -9.5 0.91 -10.5 Q1.69 -11.5 2.18 -12.15 Q2.67 -12.8 2.47 -13.3 Q2.28 -13.8 1.39 -14.1 Q0.5 -14.4 -1.45 -14.55 Q-3.4 -14.7 -5.35 -14.15 Q-7.3 -13.6 -8.6 -12.25 Q-9.9 -10.9 -10.3 -9.2 Q-10.7 -7.5 -10.3 -6.15 Q-9.9 -4.8 -8.6 -3.8 Q-7.3 -2.8 -5.95 -2.22 Q-4.6 -1.65 -3.6 -1.35 Q-2.6 -1.06 -2.23 -0.83 Q-1.85 -0.6 -1.56 -1.52 Z" fill="#fbfbfb" stroke="#1f1a17" stroke-width="1.25" stroke-linejoin="round"/>
<path transform="translate(712 889) rotate(90)" d="M-1.56 -1.52 Q-1.26 -2.43 -1.22 -3.62 Q-1.18 -4.8 -1.02 -5.97 Q-0.86 -7.15 -0.37 -8.32 Q0.12 -9.5 0.91 -10.5 Q1.69 -11.5 2.18 -12.15 Q2.67 -12.8 2.47 -13.3 Q2.28 -13.8 1.39 -14.1 Q0.5 -14.4 -1.45 -14.55 Q-3.4 -14.7 -5.35 -14.15 Q-7.3 -13.6 -8.6 -12.25 Q-9.9 -10.9 -10.3 -9.2 Q-10.7 -7.5 -10.3 -6.15 Q-9.9 -4.8 -8.6 -3.8 Q-7.3 -2.8 -5.95 -2.22 Q-4.6 -1.65 -3.6 -1.35 Q-2.6 -1.06 -2.23 -0.83 Q-1.85 -0.6 -1.56 -1.52 Z" fill="#fbfbfb" stroke="#1f1a17" stroke-width="1.25" stroke-linejoin="round"/>
<path transform="translate(712 889) rotate(180)" d="M-1.56 -1.52 Q-1.26 -2.43 -1.22 -3.62 Q-1.18 -4.8 -1.02 -5.97 Q-0.86 -7.15 -0.37 -8.32 Q0.12 -9.5 0.91 -10.5 Q1.69 -11.5 2.18 -12.15 Q2.67 -12.8 2.47 -13.3 Q2.28 -13.8 1.39 -14.1 Q0.5 -14.4 -1.45 -14.55 Q-3.4 -14.7 -5.35 -14.15 Q-7.3 -13.6 -8.6 -12.25 Q-9.9 -10.9 -10.3 -9.2 Q-10.7 -7.5 -10.3 -6.15 Q-9.9 -4.8 -8.6 -3.8 Q-7.3 -2.8 -5.95 -2.22 Q-4.6 -1.65 -3.6 -1.35 Q-2.6 -1.06 -2.23 -0.83 Q-1.85 -0.6 -1.56 -1.52 Z" fill="#fbfbfb" stroke="#1f1a17" stroke-width="1.25" stroke-linejoin="round"/>
<path transform="translate(712 889) rotate(270)" d="M-1.56 -1.52 Q-1.26 -2.43 -1.22 -3.62 Q-1.18 -4.8 -1.02 -5.97 Q-0.86 -7.15 -0.37 -8.32 Q0.12 -9.5 0.91 -10.5 Q1.69 -11.5 2.18 -12.15 Q2.67 -12.8 2.47 -13.3 Q2.28 -13.8 1.39 -14.1 Q0.5 -14.4 -1.45 -14.55 Q-3.4 -14.7 -5.35 -14.15 Q-7.3 -13.6 -8.6 -12.25 Q-9.9 -10.9 -10.3 -9.2 Q-10.7 -7.5 -10.3 -6.15 Q-9.9 -4.8 -8.6 -3.8 Q-7.3 -2.8 -5.95 -2.22 Q-4.6 -1.65 -3.6 -1.35 Q-2.6 -1.06 -2.23 -0.83 Q-1.85 -0.6 -1.56 -1.52 Z" fill="#fbfbfb" stroke="#1f1a17" stroke-width="1.25" stroke-linejoin="round"/>
<rect x="653.4" y="1045.2" width="125.1" height="174.7" fill="#f6dcb9"/>
<rect x="652.6" y="1044.4" width="125.1" height="174.7" fill="#e6ad68"/>
<rect x="649.5" y="1041.3" width="125.1" height="174.7" fill="#fde0c6" stroke="#3f2a18" stroke-width="1.25"/>
<rect x="624.8" y="1100.7" width="24.7" height="74.6" fill="#faf089" stroke="#363005" stroke-width="1.3"/>
<text x="637.15" y="1115.78" class="pn" text-anchor="middle">1</text>
<path d="M624.8 1119.35 H649.5" stroke="#363005" stroke-width="1.2"/>
<text x="637.15" y="1134.43" class="pn" text-anchor="middle">2</text>
<path d="M624.8 1138 H649.5" stroke="#363005" stroke-width="1.2"/>
<text x="637.15" y="1153.08" class="pn" text-anchor="middle">3</text>
<path d="M624.8 1156.65 H649.5" stroke="#363005" stroke-width="1.2"/>
<text x="637.15" y="1171.72" class="pn" text-anchor="middle">4</text>
<text x="787.1" y="1058.7" class="bl">40</text>
<path d="M628.5 1187.5 L644.4 1187.5" fill="none" stroke="#1f1a17" stroke-width="1.1" />
<path d="M638.6 1182.8 L633.9 1187.5 L638.6 1192.2" fill="none" stroke="#1f1a17" stroke-width="1.1" />
<path d="M642.9 1182.8 L638.2 1187.5 L642.9 1192.2" fill="none" stroke="#1f1a17" stroke-width="1.1" />
<path d="M649.5 1110 L674.6 1110 L674.6 1079 L699 1079" fill="none" stroke="#1f1a17" stroke-width="1.7" />
<path d="M737.4 1079 L749.2 1079 L749.2 1103.5 L737 1103.5" fill="none" stroke="#1f1a17" stroke-width="1.7" />
<path d="M699.2 1103.5 L701.56 1095.9 L706.29 1111.1 L711.01 1095.9 L715.74 1111.1 L720.46 1095.9 L725.19 1111.1 L729.91 1095.9 L734.64 1111.1 L737 1103.5" fill="none" stroke="#1f1a17" stroke-width="1.7" stroke-linejoin="miter"/>
<path d="M699.2 1103.5 L686.8 1103.5 L686.8 1129" fill="none" stroke="#1f1a17" stroke-width="1.7" />
<path d="M649.5 1129 L749.2 1129 L749.2 1147.5 L737 1147.5" fill="none" stroke="#1f1a17" stroke-width="1.7" />
<path d="M699.2 1147.5 L701.56 1139.9 L706.29 1155.1 L711.01 1139.9 L715.74 1155.1 L720.46 1139.9 L725.19 1155.1 L729.91 1139.9 L734.64 1155.1 L737 1147.5" fill="none" stroke="#1f1a17" stroke-width="1.7" stroke-linejoin="miter"/>
<path d="M699.2 1147.5 L686.8 1147.5" fill="none" stroke="#1f1a17" stroke-width="1.7" />
<path d="M649.5 1147.5 L686.8 1147.5" fill="none" stroke="#1f1a17" stroke-width="2.6" />
<path d="M686.8 1147.5 L686.8 1172.6 L749.2 1172.6 L749.2 1197.2 L737 1197.2" fill="none" stroke="#1f1a17" stroke-width="1.7" />
<path d="M699.2 1197.2 L701.56 1189.6 L706.29 1204.8 L711.01 1189.6 L715.74 1204.8 L720.46 1189.6 L725.19 1204.8 L729.91 1189.6 L734.64 1204.8 L737 1197.2" fill="none" stroke="#1f1a17" stroke-width="1.7" stroke-linejoin="miter"/>
<path d="M699.2 1197.2 L674.6 1197.2 L674.6 1165.9 L649.5 1165.9" fill="none" stroke="#1f1a17" stroke-width="1.7" />
<circle cx="686.8" cy="1129" r="4.3" fill="#1f1a17"/>
<circle cx="686.8" cy="1147.5" r="4.3" fill="#1f1a17"/>
<rect x="699.5" y="1071.8" width="37.4" height="14.8" fill="#fff" stroke="#1f1a17" stroke-width="2.1"/>
<path d="M699 1079 L737.4 1079" fill="none" stroke="#1f1a17" stroke-width="1.4" />
<text x="711.5" y="1066.5" class="wl" style="font-size:17px">t°</text>
<rect x="653.3" y="1310.7" width="125.3" height="266" fill="#f6dcb9"/>
<rect x="652.5" y="1309.9" width="125.3" height="266" fill="#e6ad68"/>
<rect x="649.4" y="1306.8" width="125.3" height="266" fill="#fde0c6" stroke="#3f2a18" stroke-width="1.25"/>
<rect x="624.5" y="1335.7" width="24.9" height="224.5" fill="#faf089" stroke="#363005" stroke-width="1.3"/>
<text x="636.95" y="1350.65" class="pn" text-anchor="middle">A5</text>
<path d="M624.5 1354.1 H649.4" stroke="#363005" stroke-width="1.2"/>
<path d="M624.5 1379 H649.4" stroke="#363005" stroke-width="1.2"/>
<text x="636.95" y="1393.85" class="pn" text-anchor="middle">A6</text>
<path d="M624.5 1397.2 H649.4" stroke="#363005" stroke-width="1.2"/>
<path d="M624.5 1428.3 H649.4" stroke="#363005" stroke-width="1.2"/>
<text x="636.95" y="1443.4" class="pn" text-anchor="middle">A7</text>
<path d="M624.5 1447 H649.4" stroke="#363005" stroke-width="1.2"/>
<text x="636.95" y="1462.25" class="pn" text-anchor="middle">B1</text>
<path d="M624.5 1466 H649.4" stroke="#363005" stroke-width="1.2"/>
<text x="636.95" y="1481.1" class="pn" text-anchor="middle">B2</text>
<path d="M624.5 1484.7 H649.4" stroke="#363005" stroke-width="1.2"/>
<text x="636.95" y="1500.2" class="pn" text-anchor="middle">B3</text>
<path d="M624.5 1504.2 H649.4" stroke="#363005" stroke-width="1.2"/>
<text x="636.95" y="1519.4" class="pn" text-anchor="middle">B4</text>
<path d="M624.5 1523.1 H649.4" stroke="#363005" stroke-width="1.2"/>
<text x="636.95" y="1538.45" class="pn" text-anchor="middle">B5</text>
<path d="M624.5 1542.3 H649.4" stroke="#363005" stroke-width="1.2"/>
<text x="636.95" y="1557" class="pn" text-anchor="middle">B6</text>
<text x="787.1" y="1326.1" class="bl">41</text>
<path d="M649.5 1344.8 L692.6 1344.8" fill="none" stroke="#1f1a17" stroke-width="2.05" />
<rect x="692.6" y="1319.9" width="50.4" height="50.4" fill="#a9cbe0" stroke="#4d5c66" stroke-width="1"/>
<path d="M692.6 1336.1 L743 1336.1" fill="none" stroke="#1f1a17" stroke-width="2" />
<circle cx="717.8" cy="1345.1" r="17.7" fill="#eef4f8" stroke="#1f1a17" stroke-width="2.4"/>
<path d="M705.5 1351.1 L730.1 1351.1" fill="none" stroke="#1f1a17" stroke-width="2" />
<path d="M717.8 1351.1 L717.8 1370.3" fill="none" stroke="#1f1a17" stroke-width="2.1" />
<path d="M702.2 1335.7 L710.4 1351.1" fill="none" stroke="#1f1a17" stroke-width="2.1" />
<path d="M724.8 1351.1 L729.4 1343.3" fill="none" stroke="#1f1a17" stroke-width="2.1" />
<path d="M732.2 1338.3 L725.2 1342.7 L731.2 1347.1 Z" fill="#1f1a17"/>
<path d="M649.5 1388.1 L743.3 1388.1 L743.3 1400" fill="none" stroke="#1f1a17" stroke-width="2.05" />
<path d="M649.5 1437.8 L743.3 1437.8 L743.3 1426" fill="none" stroke="#1f1a17" stroke-width="2.05" />
<path d="M686.8 1388.1 L686.8 1437.8" fill="none" stroke="#1f1a17" stroke-width="2.2" />
<circle cx="686.8" cy="1413" r="14.6" fill="#fff" stroke="#1f1a17" stroke-width="2.2"/>
<path d="M676.48 1402.68 L697.12 1423.32" fill="none" stroke="#1f1a17" stroke-width="1.1" />
<path d="M676.48 1423.32 L697.12 1402.68" fill="none" stroke="#1f1a17" stroke-width="1.1" />
<circle cx="743.3" cy="1413" r="14.6" fill="#fff" stroke="#1f1a17" stroke-width="2.2"/>
<path d="M732.98 1402.68 L753.62 1423.32" fill="none" stroke="#1f1a17" stroke-width="1.1" />
<path d="M732.98 1423.32 L753.62 1402.68" fill="none" stroke="#1f1a17" stroke-width="1.1" />
<circle cx="686.8" cy="1388.1" r="4.2" fill="#1f1a17"/>
<circle cx="686.8" cy="1437.8" r="4.2" fill="#1f1a17"/>
<path d="M649.5 1456.3 L742.7 1456.3 L742.7 1504.4 L717 1504.4" fill="none" stroke="#1f1a17" stroke-width="2.05" />
<path d="M717 1468.2 L717 1504.4" fill="none" stroke="#1f1a17" stroke-width="4" />
<path d="M649.5 1474.7 L695.4 1474.7" fill="none" stroke="#1f1a17" stroke-width="2.05" />
<path d="M649.5 1493.5 L681.4 1493.5" fill="none" stroke="#1f1a17" stroke-width="2.05" />
<path d="M649.5 1513.6 L681.4 1513.6" fill="none" stroke="#1f1a17" stroke-width="2.05" />
<path d="M649.5 1532.4 L695.4 1532.4" fill="none" stroke="#1f1a17" stroke-width="2.05" />
<path d="M649.5 1550.5 L695.4 1550.5 L695.4 1532.4" fill="none" stroke="#1f1a17" stroke-width="2.05" />
<path d="M717 1468.2 Q700 1470 695.4 1474.7 Q683 1484 681.4 1493.5 Q679.5 1504 681.4 1513.6 Q684 1524 695.4 1532.4" fill="none" stroke="#1f1a17" stroke-width="1.1" stroke-dasharray="6 4"/>
<circle cx="717" cy="1468.2" r="3.7" fill="#fff" stroke="#1f1a17" stroke-width="1.3"/>
<circle cx="717" cy="1504.4" r="3.7" fill="#fff" stroke="#1f1a17" stroke-width="1.3"/>
<circle cx="695.4" cy="1474.7" r="3.7" fill="#fff" stroke="#1f1a17" stroke-width="1.3"/>
<circle cx="681.4" cy="1493.5" r="3.7" fill="#fff" stroke="#1f1a17" stroke-width="1.3"/>
<circle cx="681.4" cy="1513.6" r="3.7" fill="#fff" stroke="#1f1a17" stroke-width="1.3"/>
<circle cx="695.4" cy="1532.4" r="3.7" fill="#fff" stroke="#1f1a17" stroke-width="1.3"/>
<path d="M934.1 100.5 L937.1 103.5 L946 113.5 L1144.5 113.5 L1144.5 118.5 L946 118.5 L937.1 108.5 L934.1 105.5 Z" fill="#1d1d1d"/>
<rect x="1082.9" y="111.5" width="37.4" height="9" fill="#fff"/>
<text x="1087.9" y="121.6" class="wl" textLength="29.1" lengthAdjust="spacingAndGlyphs">S15</text>
<path d="M934.1 131.3 L937.1 134.3 L946 144.3 L1144.5 144.3 L1144.5 149.3 L946 149.3 L937.1 139.3 L934.1 136.3 Z" fill="#efa951"/>
<rect x="1079.18" y="142.3" width="40.12" height="9" fill="#fff"/>
<text x="1084.18" y="152.4" class="wl" textLength="31.82" lengthAdjust="spacingAndGlyphs">29/1</text>
<path d="M934.1 151.7 L937.1 154.7 L946 164.7 L1132.5 164.7 L1144.5 176 L1144.5 181 L1132.5 169.7 L946 169.7 L937.1 159.7 L934.1 156.7 Z" fill="#f3d81d"/>
<rect x="1018.67" y="162.7" width="60.13" height="9" fill="#fff"/>
<text x="1023.67" y="172.8" class="wl" textLength="51.83" lengthAdjust="spacingAndGlyphs">52/S14</text>
<path d="M934.1 199.4 L937.1 196.4 L946 186.4 L1132.5 186.4 L1144.5 176 L1144.5 181 L1132.5 191.4 L946 191.4 L937.1 201.4 L934.1 204.4 Z" fill="#f3d81d"/>
<rect x="1080.18" y="184.4" width="40.12" height="9" fill="#fff"/>
<text x="1085.18" y="194.5" class="wl" textLength="31.82" lengthAdjust="spacingAndGlyphs">46/3</text>
<path d="M934.1 193.8 L937.1 196.8 L946 206.8 L1144.5 206.8 L1144.5 211.8 L946 211.8 L937.1 201.8 L934.1 198.8 Z" fill="#e8adc8"/>
<rect x="1038.68" y="204.8" width="40.12" height="9" fill="#fff"/>
<text x="1043.68" y="214.9" class="wl" textLength="31.82" lengthAdjust="spacingAndGlyphs">29/2</text>
<path d="M934.1 251.1 L937.1 248.1 L946 238.1 L1144.5 238.1 L1144.5 243.1 L946 243.1 L937.1 253.1 L934.1 256.1 Z" fill="#1ca4dd"/>
<rect x="1080.18" y="236.1" width="40.12" height="9" fill="#fff"/>
<text x="1085.18" y="246.2" class="wl" textLength="31.82" lengthAdjust="spacingAndGlyphs">46/4</text>
<rect x="1173.1" y="94.9" width="125.1" height="174.3" fill="#f6dcb9"/>
<rect x="1172.3" y="94.1" width="125.1" height="174.3" fill="#e6ad68"/>
<rect x="1169.2" y="91" width="125.1" height="174.3" fill="#fde0c6" stroke="#3f2a18" stroke-width="1.25"/>
<rect x="1144.5" y="106.6" width="24.7" height="142.6" fill="#faf089" stroke="#363005" stroke-width="1.3"/>
<text x="1156.85" y="121.65" class="pn" text-anchor="middle">2</text>
<path d="M1144.5 125.2 H1169.2" stroke="#363005" stroke-width="1.2"/>
<path d="M1144.5 137.4 H1169.2" stroke="#363005" stroke-width="1.2"/>
<text x="1156.85" y="152.45" class="pn" text-anchor="middle">5</text>
<path d="M1144.5 156 H1169.2" stroke="#363005" stroke-width="1.2"/>
<path d="M1144.5 168.5 H1169.2" stroke="#363005" stroke-width="1.2"/>
<text x="1156.85" y="183.6" class="pn" text-anchor="middle">3</text>
<path d="M1144.5 187.2 H1169.2" stroke="#363005" stroke-width="1.2"/>
<path d="M1144.5 199.9 H1169.2" stroke="#363005" stroke-width="1.2"/>
<text x="1156.85" y="214.9" class="pn" text-anchor="middle">1</text>
<path d="M1144.5 218.4 H1169.2" stroke="#363005" stroke-width="1.2"/>
<path d="M1144.5 230.7 H1169.2" stroke="#363005" stroke-width="1.2"/>
<text x="1156.85" y="245.7" class="pn" text-anchor="middle">4</text>
<path d="M1169.2 115.8 L1269.2 115.8 L1269.2 239.9 L1224 239.9" fill="none" stroke="#1f1a17" stroke-width="2.05" />
<path d="M1169.2 239.9 L1196 239.9" fill="none" stroke="#1f1a17" stroke-width="2.05" />
<circle cx="1209.8" cy="239.9" r="14.2" fill="#fff" stroke="#1f1a17" stroke-width="2.2"/>
<path d="M1199.76 229.86 L1219.84 249.94" fill="none" stroke="#1f1a17" stroke-width="1.1" />
<path d="M1199.76 249.94 L1219.84 229.86" fill="none" stroke="#1f1a17" stroke-width="1.1" />
<path d="M1169.2 146.9 L1219 146.9" fill="none" stroke="#1f1a17" stroke-width="2.05" />
<path d="M1244 134 L1269.2 134" fill="none" stroke="#1f1a17" stroke-width="2.05" />
<path d="M1219 146.9 L1244 134" fill="none" stroke="#1f1a17" stroke-width="2.6" />
<circle cx="1269.2" cy="134" r="4.2" fill="#1f1a17"/>
<circle cx="1244" cy="134" r="3.5" fill="#fff" stroke="#1f1a17" stroke-width="1.3"/>
<circle cx="1219" cy="146.9" r="3.5" fill="#fff" stroke="#1f1a17" stroke-width="1.3"/>
<path d="M1169.2 178.1 L1244 178.1" fill="none" stroke="#1f1a17" stroke-width="2.05" />
<path d="M1244 159 L1244 197.4" fill="none" stroke="#1f1a17" stroke-width="2" />
<circle cx="1244" cy="159" r="3.5" fill="#fff" stroke="#1f1a17" stroke-width="1.3"/>
<circle cx="1244" cy="197.4" r="3.5" fill="#fff" stroke="#1f1a17" stroke-width="1.3"/>
<circle cx="1244" cy="178.1" r="4.2" fill="#1f1a17"/>
<path d="M1169.2 209.1 L1219 209.1" fill="none" stroke="#1f1a17" stroke-width="2.05" />
<path d="M1244 222 L1269.2 222" fill="none" stroke="#1f1a17" stroke-width="2.05" />
<path d="M1219 209.1 L1244 222" fill="none" stroke="#1f1a17" stroke-width="2.6" />
<circle cx="1269.2" cy="222" r="4.2" fill="#1f1a17"/>
<circle cx="1244" cy="222" r="3.5" fill="#fff" stroke="#1f1a17" stroke-width="1.3"/>
<circle cx="1219" cy="209.1" r="3.5" fill="#fff" stroke="#1f1a17" stroke-width="1.3"/>
<text x="1308.9" y="110.3" class="bl">42</text>
<path d="M934.1 414.2 L937.1 417.2 L946 427.2 L1144.5 427.2 L1144.5 432.2 L946 432.2 L937.1 422.2 L934.1 419.2 Z" fill="#1d1d1d"/>
<rect x="1064.9" y="425.2" width="37.4" height="9" fill="#fff"/>
<text x="1069.9" y="435.3" class="wl" textLength="29.1" lengthAdjust="spacingAndGlyphs">S16</text>
<path d="M934.1 434.1 L937.1 437.1 L946 447.1 L1132.5 447.1 L1144.5 458.2 L1144.5 463.2 L1132.5 452.1 L946 452.1 L937.1 442.1 L934.1 439.1 Z" fill="#efa951"/>
<rect x="978.63" y="445.1" width="84.67" height="9" fill="#fff"/>
<text x="983.63" y="455.2" class="wl" textLength="76.37" lengthAdjust="spacingAndGlyphs">47/X2/A17</text>
<path d="M934.1 455.75 L937.1 458.75 L946 468.75 L1132.5 468.75 L1144.5 458.65 L1144.5 462.75 L1132.5 472.85 L946 472.85 L937.1 462.85 L934.1 459.85 Z" fill="#fff"/>
<path d="M934.1 455.75 L937.1 458.75 L946 468.75 L1132.5 468.75 L1144.5 458.65" fill="none" stroke="#1f1a17" stroke-width="1.2"/>
<path d="M934.1 459.85 L937.1 462.85 L946 472.85 L1132.5 472.85 L1144.5 462.75" fill="none" stroke="#1f1a17" stroke-width="1.2"/>
<rect x="1062.18" y="466.3" width="40.12" height="9" fill="#fff"/>
<text x="1067.18" y="476.4" class="wl" textLength="31.82" lengthAdjust="spacingAndGlyphs">33/4</text>
<path d="M934.1 496.5 L937.1 499.5 L946 509.5 L1132.5 509.5 L1144.5 520 L1144.5 525 L1132.5 514.5 L946 514.5 L937.1 504.5 L934.1 501.5 Z" fill="#e8adc8"/>
<rect x="987.72" y="507.5" width="75.58" height="9" fill="#fff"/>
<text x="992.72" y="517.6" class="wl" textLength="67.28" lengthAdjust="spacingAndGlyphs">47/X2/A8</text>
<path d="M934.1 517.5 L937.1 520.5 L946 530.5 L1132.5 530.5 L1144.5 520 L1144.5 525 L1132.5 535.5 L946 535.5 L937.1 525.5 L934.1 522.5 Z" fill="#a35b3d"/>
<rect x="1061.18" y="528.5" width="40.12" height="9" fill="#fff"/>
<text x="1066.18" y="538.6" class="wl" textLength="31.82" lengthAdjust="spacingAndGlyphs">33/1</text>
<path d="M934.1 538.5 L937.1 541.5 L946 551.5 L1144.5 551.5 L1144.5 556.5 L946 556.5 L937.1 546.5 L934.1 543.5 Z" fill="#1ca4dd"/>
<rect x="1025.9" y="549.5" width="37.4" height="9" fill="#fff"/>
<text x="1030.9" y="559.6" class="wl" textLength="29.1" lengthAdjust="spacingAndGlyphs">S26</text>
<path d="M1145.5 429.3 L1117.6 440.6 L1117.6 491.3 L1145.5 491.3" fill="none" stroke="#1d1d1d" stroke-width="4.8" stroke-linejoin="miter"/>
<rect x="1173.1" y="408.6" width="125.1" height="174.3" fill="#f6dcb9"/>
<rect x="1172.3" y="407.8" width="125.1" height="174.3" fill="#e6ad68"/>
<rect x="1169.2" y="404.7" width="125.1" height="174.3" fill="#fde0c6" stroke="#3f2a18" stroke-width="1.25"/>
<rect x="1144.5" y="420.3" width="24.7" height="142.6" fill="#faf089" stroke="#363005" stroke-width="1.3"/>
<text x="1156.85" y="435.35" class="pn" text-anchor="middle">2</text>
<path d="M1144.5 438.9 H1169.2" stroke="#363005" stroke-width="1.2"/>
<path d="M1144.5 451.1 H1169.2" stroke="#363005" stroke-width="1.2"/>
<text x="1156.85" y="466.15" class="pn" text-anchor="middle">5</text>
<path d="M1144.5 469.7 H1169.2" stroke="#363005" stroke-width="1.2"/>
<path d="M1144.5 482.2 H1169.2" stroke="#363005" stroke-width="1.2"/>
<text x="1156.85" y="497.3" class="pn" text-anchor="middle">3</text>
<path d="M1144.5 500.9 H1169.2" stroke="#363005" stroke-width="1.2"/>
<path d="M1144.5 513.6 H1169.2" stroke="#363005" stroke-width="1.2"/>
<text x="1156.85" y="528.6" class="pn" text-anchor="middle">1</text>
<path d="M1144.5 532.1 H1169.2" stroke="#363005" stroke-width="1.2"/>
<path d="M1144.5 544.4 H1169.2" stroke="#363005" stroke-width="1.2"/>
<text x="1156.85" y="559.4" class="pn" text-anchor="middle">4</text>
<path d="M1169.2 429.5 L1269.2 429.5 L1269.2 553.6 L1224 553.6" fill="none" stroke="#1f1a17" stroke-width="2.05" />
<path d="M1169.2 553.6 L1196 553.6" fill="none" stroke="#1f1a17" stroke-width="2.05" />
<circle cx="1209.8" cy="553.6" r="14.2" fill="#fff" stroke="#1f1a17" stroke-width="2.2"/>
<path d="M1199.76 543.56 L1219.84 563.64" fill="none" stroke="#1f1a17" stroke-width="1.1" />
<path d="M1199.76 563.64 L1219.84 543.56" fill="none" stroke="#1f1a17" stroke-width="1.1" />
<path d="M1169.2 460.6 L1219 460.6" fill="none" stroke="#1f1a17" stroke-width="2.05" />
<path d="M1244 447.7 L1269.2 447.7" fill="none" stroke="#1f1a17" stroke-width="2.05" />
<path d="M1219 460.6 L1244 447.7" fill="none" stroke="#1f1a17" stroke-width="2.6" />
<circle cx="1269.2" cy="447.7" r="4.2" fill="#1f1a17"/>
<circle cx="1244" cy="447.7" r="3.5" fill="#fff" stroke="#1f1a17" stroke-width="1.3"/>
<circle cx="1219" cy="460.6" r="3.5" fill="#fff" stroke="#1f1a17" stroke-width="1.3"/>
<path d="M1169.2 491.8 L1244 491.8" fill="none" stroke="#1f1a17" stroke-width="2.05" />
<path d="M1244 472.7 L1244 511.1" fill="none" stroke="#1f1a17" stroke-width="2" />
<circle cx="1244" cy="472.7" r="3.5" fill="#fff" stroke="#1f1a17" stroke-width="1.3"/>
<circle cx="1244" cy="511.1" r="3.5" fill="#fff" stroke="#1f1a17" stroke-width="1.3"/>
<circle cx="1244" cy="491.8" r="4.2" fill="#1f1a17"/>
<path d="M1169.2 522.8 L1219 522.8" fill="none" stroke="#1f1a17" stroke-width="2.05" />
<path d="M1244 535.7 L1269.2 535.7" fill="none" stroke="#1f1a17" stroke-width="2.05" />
<path d="M1219 522.8 L1244 535.7" fill="none" stroke="#1f1a17" stroke-width="2.6" />
<circle cx="1269.2" cy="535.7" r="4.2" fill="#1f1a17"/>
<circle cx="1244" cy="535.7" r="3.5" fill="#fff" stroke="#1f1a17" stroke-width="1.3"/>
<circle cx="1219" cy="522.8" r="3.5" fill="#fff" stroke="#1f1a17" stroke-width="1.3"/>
<text x="1308.9" y="424.4" class="bl">43</text>
<path d="M1145.5 799.8 L1119.8 817 L1119.8 830.6 L1144.5 830.6" fill="none" stroke="#1d1d1d" stroke-width="5" stroke-linejoin="miter"/>
<path d="M1145.5 942.2 L1120.2 959.5 L1120.2 1123.4 L1144.5 1123.4" fill="none" stroke="#1ca4dd" stroke-width="5" stroke-linejoin="miter"/>
<path d="M934.1 734.8 L937.1 737.8 L946 747.8 L1144.5 747.8 L1144.5 752.8 L946 752.8 L937.1 742.8 L934.1 739.8 Z" fill="#a35b3d"/>
<rect x="1033.63" y="745.8" width="84.67" height="9" fill="#fff"/>
<text x="1038.63" y="755.9" class="wl" textLength="76.37" lengthAdjust="spacingAndGlyphs">47/X2/B33</text>
<path d="M934.1 784.3 L937.1 787.3 L946 797.3 L1144.5 797.3 L1144.5 802.3 L946 802.3 L937.1 792.3 L934.1 789.3 Z" fill="#1d1d1d"/>
<rect x="1079.9" y="795.3" width="37.4" height="9" fill="#fff"/>
<text x="1084.9" y="805.4" class="wl" textLength="29.1" lengthAdjust="spacingAndGlyphs">S16</text>
<path d="M934.1 908.65 L937.1 911.65 L946 921.65 L1144.5 921.65 L1144.5 925.75 L946 925.75 L937.1 915.75 L934.1 912.75 Z" fill="#fff"/>
<path d="M934.1 908.65 L937.1 911.65 L946 921.65 L1144.5 921.65" fill="none" stroke="#1f1a17" stroke-width="1.2"/>
<path d="M934.1 912.75 L937.1 915.75 L946 925.75 L1144.5 925.75" fill="none" stroke="#1f1a17" stroke-width="1.2"/>
<rect x="1079.4" y="919.2" width="37.4" height="9" fill="#fff"/>
<text x="1084.4" y="929.3" class="wl" textLength="29.1" lengthAdjust="spacingAndGlyphs">S21</text>
<path d="M934.1 926.7 L937.1 929.7 L946 939.7 L1144.5 939.7 L1144.5 944.7 L946 944.7 L937.1 934.7 L934.1 931.7 Z" fill="#1ca4dd"/>
<rect x="1043.9" y="937.7" width="37.4" height="9" fill="#fff"/>
<text x="1048.9" y="947.8" class="wl" textLength="29.1" lengthAdjust="spacingAndGlyphs">S26</text>
<rect x="1173.3" y="731.5" width="137.4" height="236.4" fill="#f6dcb9"/>
<rect x="1172.5" y="730.7" width="137.4" height="236.4" fill="#e6ad68"/>
<rect x="1169.4" y="727.6" width="137.4" height="236.4" fill="#fde0c6" stroke="#3f2a18" stroke-width="1.25"/>
<rect x="1144.5" y="740.5" width="24.9" height="211" fill="#faf089" stroke="#363005" stroke-width="1.3"/>
<text x="1156.95" y="755.65" class="pn" text-anchor="middle">8</text>
<path d="M1144.5 759.3 H1169.4" stroke="#363005" stroke-width="1.2"/>
<text x="1156.95" y="774.5" class="pn" text-anchor="middle">7</text>
<path d="M1144.5 778.2 H1169.4" stroke="#363005" stroke-width="1.2"/>
<path d="M1144.5 790.5 H1169.4" stroke="#363005" stroke-width="1.2"/>
<text x="1156.95" y="805.7" class="pn" text-anchor="middle">6</text>
<path d="M1144.5 809.4 H1169.4" stroke="#363005" stroke-width="1.2"/>
<path d="M1144.5 821.7 H1169.4" stroke="#363005" stroke-width="1.2"/>
<text x="1156.95" y="836.85" class="pn" text-anchor="middle">5</text>
<path d="M1144.5 840.5 H1169.4" stroke="#363005" stroke-width="1.2"/>
<path d="M1144.5 876.5 H1169.4" stroke="#363005" stroke-width="1.2"/>
<text x="1156.95" y="891.7" class="pn" text-anchor="middle">4</text>
<path d="M1144.5 895.4 H1169.4" stroke="#363005" stroke-width="1.2"/>
<text x="1156.95" y="910.55" class="pn" text-anchor="middle">3</text>
<path d="M1144.5 914.2 H1169.4" stroke="#363005" stroke-width="1.2"/>
<text x="1156.95" y="929.35" class="pn" text-anchor="middle">2</text>
<path d="M1144.5 933 H1169.4" stroke="#363005" stroke-width="1.2"/>
<text x="1156.95" y="948" class="pn" text-anchor="middle">1</text>
<text x="1318.6" y="744.5" class="bl">44</text>
<path d="M1169.4 750.3 L1281.9 750.3 L1281.9 784 L1256.2 784" fill="none" stroke="#1f1a17" stroke-width="2.05" />
<path d="M1169.4 767.6 L1219.4 767.6" fill="none" stroke="#1f1a17" stroke-width="2.05" />
<path d="M1216.2 773.4 L1254 783.4" fill="none" stroke="#1f1a17" stroke-width="3.7" />
<path d="M1169.4 799.8 L1219.4 799.8" fill="none" stroke="#1f1a17" stroke-width="2.05" />
<path d="M1237.9 782 L1237.9 855" fill="none" stroke="#1f1a17" stroke-width="1.1" stroke-dasharray="6.5 3.5"/>
<path d="M1169.4 830.6 L1181 830.6" fill="none" stroke="#1f1a17" stroke-width="2.05" />
<path d="M1209 830.6 L1219.4 830.6 L1219.4 855.1" fill="none" stroke="#1f1a17" stroke-width="2.05" />
<circle cx="1194.7" cy="830.6" r="14.2" fill="#fff" stroke="#1f1a17" stroke-width="2.2"/>
<path d="M1184.66 820.56 L1204.74 840.64" fill="none" stroke="#1f1a17" stroke-width="1.1" />
<path d="M1184.66 840.64 L1204.74 820.56" fill="none" stroke="#1f1a17" stroke-width="1.1" />
<path d="M1219.4 855.6 L1260.3 862" fill="none" stroke="#1f1a17" stroke-width="3.8" />
<path d="M1257.4 855.1 L1257.4 831.2 L1281.9 831.2 L1281.9 886" fill="none" stroke="#1f1a17" stroke-width="2.05" />
<path d="M1281.9 923.6 L1281.9 942.2 L1169.4 942.2" fill="none" stroke="#1f1a17" stroke-width="2.05" />
<path d="M1272.2 848.4 L1291.2 848.4" fill="none" stroke="#1f1a17" stroke-width="1.7" />
<path d="M1281.9 849.6 L1290.6 866.2 H1272.8 Z" fill="#fdf1e6" stroke="#1f1a17" stroke-width="2"/>
<path d="M1281.9 848 L1281.9 868" fill="none" stroke="#1f1a17" stroke-width="1.6" />
<rect x="1274" y="886" width="15.4" height="37.6" fill="#fff" stroke="#1f1a17" stroke-width="1.7"/>
<path d="M1169.4 886.1 L1225.9 886.1 L1225.9 868.5" fill="none" stroke="#1f1a17" stroke-width="2.05" />
<path d="M1169.4 905 L1237.9 905 L1237.9 879.6" fill="none" stroke="#1f1a17" stroke-width="2.05" />
<path d="M1169.4 923.7 L1250.7 923.7 L1250.7 889" fill="none" stroke="#1f1a17" stroke-width="2.05" />
<circle cx="1219.4" cy="767.6" r="3.6" fill="#fff" stroke="#1f1a17" stroke-width="1.3"/>
<circle cx="1256.2" cy="784" r="3.6" fill="#fff" stroke="#1f1a17" stroke-width="1.3"/>
<circle cx="1219.4" cy="799.8" r="3.6" fill="#fff" stroke="#1f1a17" stroke-width="1.3"/>
<circle cx="1219.4" cy="855.1" r="3.6" fill="#fff" stroke="#1f1a17" stroke-width="1.3"/>
<circle cx="1256.6" cy="855.1" r="3.6" fill="#fff" stroke="#1f1a17" stroke-width="1.3"/>
<circle cx="1225.9" cy="868.5" r="3.6" fill="#fff" stroke="#1f1a17" stroke-width="1.3"/>
<circle cx="1237.9" cy="879.6" r="3.6" fill="#fff" stroke="#1f1a17" stroke-width="1.3"/>
<circle cx="1250.7" cy="889" r="3.6" fill="#fff" stroke="#1f1a17" stroke-width="1.3"/>
<path d="M1145.5 1185.7 L1119.8 1202 L1119.8 1235.4 L1144.5 1235.4" fill="none" stroke="#1d1d1d" stroke-width="5" stroke-linejoin="miter"/>
<path d="M934.1 1138.65 L937.1 1141.65 L946 1151.65 L1144.5 1151.65 L1144.5 1155.75 L946 1155.75 L937.1 1145.75 L934.1 1142.75 Z" fill="#fff"/>
<path d="M934.1 1138.65 L937.1 1141.65 L946 1151.65 L1144.5 1151.65" fill="none" stroke="#1f1a17" stroke-width="1.2"/>
<path d="M934.1 1142.75 L937.1 1145.75 L946 1155.75 L1144.5 1155.75" fill="none" stroke="#1f1a17" stroke-width="1.2"/>
<rect x="1032.13" y="1149.2" width="84.67" height="9" fill="#fff"/>
<text x="1037.13" y="1159.3" class="wl" textLength="76.37" lengthAdjust="spacingAndGlyphs">47/X2/B39</text>
<path d="M934.1 1196.2 L937.1 1193.2 L946 1183.2 L1144.5 1183.2 L1144.5 1188.2 L946 1188.2 L937.1 1198.2 L934.1 1201.2 Z" fill="#1d1d1d"/>
<rect x="1076.68" y="1181.2" width="40.12" height="9" fill="#fff"/>
<text x="1081.68" y="1191.3" class="wl" textLength="31.82" lengthAdjust="spacingAndGlyphs">46/2</text>
<rect x="1173.1" y="1102.3" width="125.1" height="161.3" fill="#f6dcb9"/>
<rect x="1172.3" y="1101.5" width="125.1" height="161.3" fill="#e6ad68"/>
<rect x="1169.2" y="1098.4" width="125.1" height="161.3" fill="#fde0c6" stroke="#3f2a18" stroke-width="1.25"/>
<rect x="1144.5" y="1113.8" width="24.7" height="130.5" fill="#faf089" stroke="#363005" stroke-width="1.3"/>
<text x="1156.85" y="1128.95" class="pn" text-anchor="middle">2</text>
<path d="M1144.5 1132.6 H1169.2" stroke="#363005" stroke-width="1.2"/>
<path d="M1144.5 1144 H1169.2" stroke="#363005" stroke-width="1.2"/>
<text x="1156.85" y="1159.25" class="pn" text-anchor="middle">5</text>
<path d="M1144.5 1163 H1169.2" stroke="#363005" stroke-width="1.2"/>
<path d="M1144.5 1174.8 H1169.2" stroke="#363005" stroke-width="1.2"/>
<text x="1156.85" y="1190.3" class="pn" text-anchor="middle">3</text>
<path d="M1144.5 1194.3 H1169.2" stroke="#363005" stroke-width="1.2"/>
<path d="M1144.5 1226.5 H1169.2" stroke="#363005" stroke-width="1.2"/>
<text x="1156.85" y="1241.15" class="pn" text-anchor="middle">4</text>
<path d="M1169.2 1123.2 L1269.2 1123.2 L1269.2 1235.2 L1224 1235.2" fill="none" stroke="#1f1a17" stroke-width="2.05" />
<path d="M1169.2 1235.2 L1196 1235.2" fill="none" stroke="#1f1a17" stroke-width="2.05" />
<circle cx="1209.8" cy="1235.2" r="14.2" fill="#fff" stroke="#1f1a17" stroke-width="2.2"/>
<path d="M1199.76 1225.16 L1219.84 1245.24" fill="none" stroke="#1f1a17" stroke-width="1.1" />
<path d="M1199.76 1245.24 L1219.84 1225.16" fill="none" stroke="#1f1a17" stroke-width="1.1" />
<path d="M1169.2 1154.3 L1219 1154.3" fill="none" stroke="#1f1a17" stroke-width="2.05" />
<path d="M1244 1141.4 L1269.2 1141.4" fill="none" stroke="#1f1a17" stroke-width="2.05" />
<path d="M1219 1154.3 L1244 1141.4" fill="none" stroke="#1f1a17" stroke-width="2.6" />
<circle cx="1269.2" cy="1141.4" r="4.2" fill="#1f1a17"/>
<circle cx="1244" cy="1141.4" r="3.5" fill="#fff" stroke="#1f1a17" stroke-width="1.3"/>
<circle cx="1219" cy="1154.3" r="3.5" fill="#fff" stroke="#1f1a17" stroke-width="1.3"/>
<path d="M1169.2 1185.5 L1244 1185.5" fill="none" stroke="#1f1a17" stroke-width="2.05" />
<path d="M1244 1166.4 L1244 1204.8" fill="none" stroke="#1f1a17" stroke-width="2" />
<circle cx="1244" cy="1166.4" r="3.5" fill="#fff" stroke="#1f1a17" stroke-width="1.3"/>
<circle cx="1244" cy="1204.8" r="3.5" fill="#fff" stroke="#1f1a17" stroke-width="1.3"/>
<circle cx="1244" cy="1185.5" r="4.2" fill="#1f1a17"/>
<text x="1308.9" y="1115.3" class="bl">45</text>
<path d="M934.1 1389.1 L937.1 1392.1 L946 1402.1 L1134 1402.1 L1144.5 1420.9 L1144.5 1425.9 L1134 1407.1 L946 1407.1 L937.1 1397.1 L934.1 1394.1 Z" fill="#1d1d1d"/>
<rect x="1076.98" y="1400.1" width="40.12" height="9" fill="#fff"/>
<text x="1081.98" y="1410.2" class="wl" textLength="31.82" lengthAdjust="spacingAndGlyphs">45/3</text>
<path d="M934.1 1407.9 L937.1 1410.9 L946 1420.9 L1144.5 1420.9 L1144.5 1425.9 L946 1425.9 L937.1 1415.9 L934.1 1412.9 Z" fill="#1d1d1d"/>
<rect x="1041.9" y="1418.9" width="37.4" height="9" fill="#fff"/>
<text x="1046.9" y="1429" class="wl" textLength="29.1" lengthAdjust="spacingAndGlyphs">S15</text>
<path d="M934.1 1438.2 L937.1 1441.2 L946 1451.2 L1144.5 1451.2 L1144.5 1456.2 L946 1456.2 L937.1 1446.2 L934.1 1443.2 Z" fill="#18a05b"/>
<rect x="1076.98" y="1449.2" width="40.12" height="9" fill="#fff"/>
<text x="1081.98" y="1459.3" class="wl" textLength="31.82" lengthAdjust="spacingAndGlyphs">32/1</text>
<path d="M934.1 1470.2 L937.1 1473.2 L946 1483.2 L1144.5 1483.2 L1144.5 1488.2 L946 1488.2 L937.1 1478.2 L934.1 1475.2 Z" fill="#f3d81d"/>
<rect x="1076.98" y="1481.2" width="40.12" height="9" fill="#fff"/>
<text x="1081.98" y="1491.3" class="wl" textLength="31.82" lengthAdjust="spacingAndGlyphs">42/3</text>
<path d="M934.1 1501.2 L937.1 1504.2 L946 1514.2 L1144.5 1514.2 L1144.5 1519.2 L946 1519.2 L937.1 1509.2 L934.1 1506.2 Z" fill="#8b2b8b"/>
<rect x="1076.98" y="1512.2" width="40.12" height="9" fill="#fff"/>
<text x="1081.98" y="1522.3" class="wl" textLength="31.82" lengthAdjust="spacingAndGlyphs">32/2</text>
<path d="M934.1 1532.3 L937.1 1535.3 L946 1545.3 L1144.5 1545.3 L1144.5 1550.3 L946 1550.3 L937.1 1540.3 L934.1 1537.3 Z" fill="#1ca4dd"/>
<rect x="1076.98" y="1543.3" width="40.12" height="9" fill="#fff"/>
<text x="1081.98" y="1553.4" class="wl" textLength="31.82" lengthAdjust="spacingAndGlyphs">42/4</text>
<path d="M934.5 1552.1 L947 1563.1 L1134 1563.1 L1144.5 1545.3 L1144.5 1550.3 L1134 1568.1 L947 1568.1 L934.5 1557.1 Z" fill="#1ca4dd"/>
<rect x="1041.9" y="1561.1" width="37.4" height="9" fill="#fff"/>
<text x="1046.9" y="1571.2" class="wl" textLength="29.1" lengthAdjust="spacingAndGlyphs">S26</text>
<rect x="1173.1" y="1402.3" width="125.1" height="174.3" fill="#f6dcb9"/>
<rect x="1172.3" y="1401.5" width="125.1" height="174.3" fill="#e6ad68"/>
<rect x="1169.2" y="1398.4" width="125.1" height="174.3" fill="#fde0c6" stroke="#3f2a18" stroke-width="1.25"/>
<rect x="1144.5" y="1414" width="24.7" height="142.6" fill="#faf089" stroke="#363005" stroke-width="1.3"/>
<text x="1156.85" y="1429.05" class="pn" text-anchor="middle">2</text>
<path d="M1144.5 1432.6 H1169.2" stroke="#363005" stroke-width="1.2"/>
<path d="M1144.5 1444.8 H1169.2" stroke="#363005" stroke-width="1.2"/>
<text x="1156.85" y="1459.85" class="pn" text-anchor="middle">5</text>
<path d="M1144.5 1463.4 H1169.2" stroke="#363005" stroke-width="1.2"/>
<path d="M1144.5 1475.9 H1169.2" stroke="#363005" stroke-width="1.2"/>
<text x="1156.85" y="1491" class="pn" text-anchor="middle">3</text>
<path d="M1144.5 1494.6 H1169.2" stroke="#363005" stroke-width="1.2"/>
<path d="M1144.5 1507.3 H1169.2" stroke="#363005" stroke-width="1.2"/>
<text x="1156.85" y="1522.3" class="pn" text-anchor="middle">1</text>
<path d="M1144.5 1525.8 H1169.2" stroke="#363005" stroke-width="1.2"/>
<path d="M1144.5 1538.1 H1169.2" stroke="#363005" stroke-width="1.2"/>
<text x="1156.85" y="1553.1" class="pn" text-anchor="middle">4</text>
<path d="M1169.2 1423.2 L1269.2 1423.2 L1269.2 1547.3 L1224 1547.3" fill="none" stroke="#1f1a17" stroke-width="2.05" />
<path d="M1169.2 1547.3 L1196 1547.3" fill="none" stroke="#1f1a17" stroke-width="2.05" />
<circle cx="1209.8" cy="1547.3" r="14.2" fill="#fff" stroke="#1f1a17" stroke-width="2.2"/>
<path d="M1199.76 1537.26 L1219.84 1557.34" fill="none" stroke="#1f1a17" stroke-width="1.1" />
<path d="M1199.76 1557.34 L1219.84 1537.26" fill="none" stroke="#1f1a17" stroke-width="1.1" />
<path d="M1169.2 1454.3 L1219 1454.3" fill="none" stroke="#1f1a17" stroke-width="2.05" />
<path d="M1244 1441.4 L1269.2 1441.4" fill="none" stroke="#1f1a17" stroke-width="2.05" />
<path d="M1219 1454.3 L1244 1441.4" fill="none" stroke="#1f1a17" stroke-width="2.6" />
<circle cx="1269.2" cy="1441.4" r="4.2" fill="#1f1a17"/>
<circle cx="1244" cy="1441.4" r="3.5" fill="#fff" stroke="#1f1a17" stroke-width="1.3"/>
<circle cx="1219" cy="1454.3" r="3.5" fill="#fff" stroke="#1f1a17" stroke-width="1.3"/>
<path d="M1169.2 1485.5 L1244 1485.5" fill="none" stroke="#1f1a17" stroke-width="2.05" />
<path d="M1244 1466.4 L1244 1504.8" fill="none" stroke="#1f1a17" stroke-width="2" />
<circle cx="1244" cy="1466.4" r="3.5" fill="#fff" stroke="#1f1a17" stroke-width="1.3"/>
<circle cx="1244" cy="1504.8" r="3.5" fill="#fff" stroke="#1f1a17" stroke-width="1.3"/>
<circle cx="1244" cy="1485.5" r="4.2" fill="#1f1a17"/>
<path d="M1169.2 1516.5 L1219 1516.5" fill="none" stroke="#1f1a17" stroke-width="2.05" />
<path d="M1244 1529.4 L1269.2 1529.4" fill="none" stroke="#1f1a17" stroke-width="2.05" />
<path d="M1219 1516.5 L1244 1529.4" fill="none" stroke="#1f1a17" stroke-width="2.6" />
<circle cx="1269.2" cy="1529.4" r="4.2" fill="#1f1a17"/>
<circle cx="1244" cy="1529.4" r="3.5" fill="#fff" stroke="#1f1a17" stroke-width="1.3"/>
<circle cx="1219" cy="1516.5" r="3.5" fill="#fff" stroke="#1f1a17" stroke-width="1.3"/>
<text x="1308.9" y="1418.7" class="bl">46</text>
<rect x="13.3" y="38.4" width="1369.7" height="7.9" fill="url(#hh)"/>
<rect x="408.3" y="45.8" width="7.4" height="1495.2" fill="url(#hv)"/>
<rect x="929.5" y="45.8" width="7.9" height="1509.5" fill="url(#hv)"/>
<path d="M13.3 38.4 H1383" stroke="#2c3a41" stroke-width="1.1"/>
<path d="M13.3 46.3 H408.3 V1541 H415.7 V46.3 H929.5 V1555.3 H937.4 V46.3 H1383" fill="none" stroke="#2c3a41" stroke-width="1.1"/>
</svg>
<div class="cap" style="top:1607.2px;width:1273.02px;transform:scaleX(1.075)"><b>35</b> – крышка колодки диагностики с перемычкой; <b>36</b> – колодка соединений со жгутом проводов подушки безопасности переднего пассажира</div>
<div class="cap" style="top:1634.9px;width:1312.08px;transform:scaleX(1.043)">и освещения вещевого ящика; <b>37</b> – блок управления подушками безопасности; <b>38</b> – колодка соединения со жгутом проводов вентилятора отопи-</div>
<div class="cap" style="top:1662.6px;width:1315.87px;transform:scaleX(1.04)">теля; <b>39</b> – вентилятор отопителя; <b>40</b> – блок дополнительных резисторов вентилятора отопителя; <b>41</b> – блок управления вентиляцией, отоплением</div>
<div class="cap" style="top:1690.3px;width:1312.08px;transform:scaleX(1.043)">и кондиционированием; <b>42</b> – выключатель стеклоподъемника правой передней двери; <b>43</b> – выключатель центрального замка; <b>44</b> – выклю-</div>
<div class="cap" style="top:1718px;width:1315.87px;transform:scaleX(1.04)">чатель аварийной сигнализации; <b>45</b> – выключатель обогрева заднего стекла; <b>46</b> – выключатель стеклоподьемника левой передней двери;</div>
<div class="rule"></div>
</body></html>
